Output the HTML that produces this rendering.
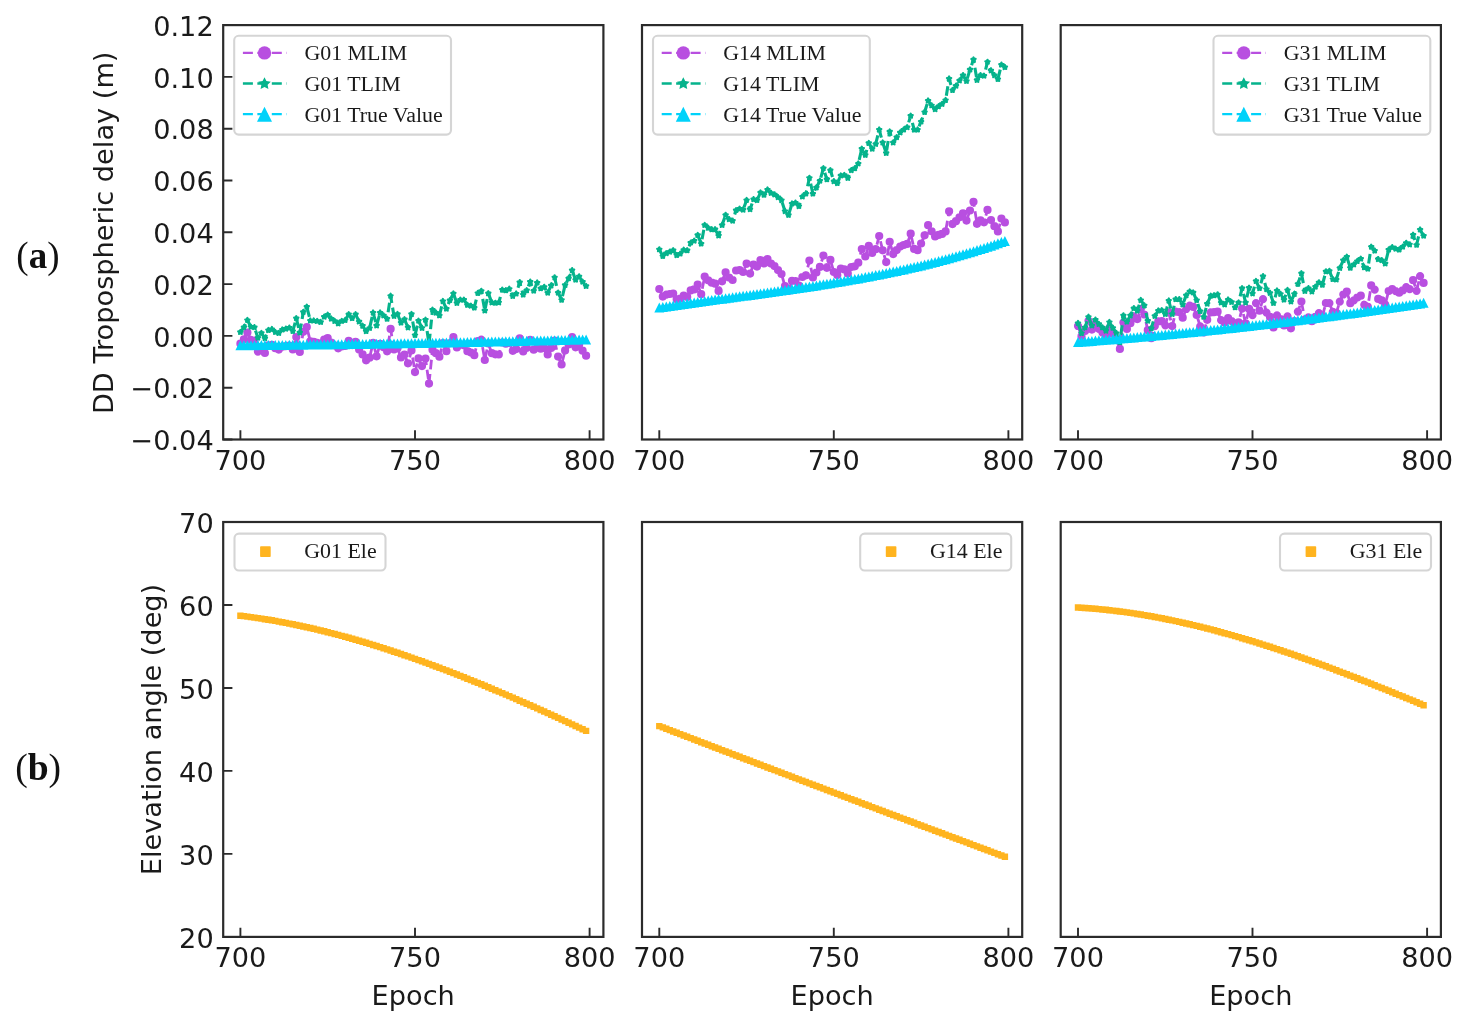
<!DOCTYPE html>
<html><head><meta charset="utf-8"><title>DD tropospheric delay and elevation angle</title>
<style>
html,body{margin:0;padding:0;background:#fff;}
body{width:1467px;height:1025px;overflow:hidden;}
svg{display:block;}
.tk{font-family:"DejaVu Sans","Liberation Sans",sans-serif;font-size:27.2px;fill:#1a1a1a;}
.lg{font-family:"Liberation Serif",serif;font-size:21.9px;fill:#1a1a1a;}
.pl{font-family:"Liberation Serif","DejaVu Serif",serif;fill:#111;}
</style></head><body>
<svg width="1467" height="1025" viewBox="0 0 1467 1025">
<rect width="1467" height="1025" fill="#fff"/>
<g id="top0">
<polyline points="240.4,343.7 243.9,339.4 247.4,332.6 250.9,339.8 254.4,340.7 257.9,351.6 261.4,347.3 264.9,353.0 268.4,345.3 271.9,344.8 275.3,348.2 278.8,349.6 282.3,346.7 285.8,346.2 289.3,345.7 292.8,349.5 296.3,337.1 299.8,351.9 303.3,331.8 306.8,327.1 310.3,341.4 313.7,341.9 317.2,342.9 320.7,344.3 324.2,339.6 327.7,338.2 331.2,342.5 334.7,345.4 338.2,348.3 341.7,346.4 345.2,346.0 348.7,340.8 352.2,345.1 355.6,341.9 359.1,349.6 362.6,354.4 366.1,360.3 369.6,357.7 373.1,342.8 376.6,356.3 380.1,343.9 383.6,347.3 387.1,351.3 390.6,328.9 394.0,349.5 397.5,348.2 401.0,357.4 404.5,354.6 408.0,363.3 411.5,350.5 415.0,372.1 418.5,358.4 422.0,366.1 425.5,358.6 429.0,383.6 432.5,349.7 435.9,353.2 439.4,356.7 442.9,343.0 446.4,351.2 449.9,343.2 453.4,337.2 456.9,347.4 460.4,344.6 463.9,345.3 467.4,351.2 470.9,352.6 474.3,355.2 477.8,341.2 481.3,339.7 484.8,360.0 488.3,343.4 491.8,353.2 495.3,354.3 498.8,354.5 502.3,342.5 505.8,343.7 509.3,343.0 512.8,350.8 516.2,349.1 519.7,338.3 523.2,351.4 526.7,347.8 530.2,339.9 533.7,349.7 537.2,342.3 540.7,348.7 544.2,348.0 547.7,354.4 551.2,348.0 554.6,340.5 558.1,356.6 561.6,364.5 565.1,350.4 568.6,344.4 572.1,337.0 575.6,347.3 579.1,344.7 582.6,350.7 586.1,355.7" fill="none" stroke="#b84fe0" stroke-width="2.8" stroke-dasharray="9.6 4.6" stroke-linejoin="round"/>
<path fill="#b84fe0" d="M236.3,343.7a4.1,4.1 0 1,0 8.2,0a4.1,4.1 0 1,0 -8.2,0ZM239.8,339.4a4.1,4.1 0 1,0 8.2,0a4.1,4.1 0 1,0 -8.2,0ZM243.3,332.6a4.1,4.1 0 1,0 8.2,0a4.1,4.1 0 1,0 -8.2,0ZM246.8,339.8a4.1,4.1 0 1,0 8.2,0a4.1,4.1 0 1,0 -8.2,0ZM250.3,340.7a4.1,4.1 0 1,0 8.2,0a4.1,4.1 0 1,0 -8.2,0ZM253.8,351.6a4.1,4.1 0 1,0 8.2,0a4.1,4.1 0 1,0 -8.2,0ZM257.3,347.3a4.1,4.1 0 1,0 8.2,0a4.1,4.1 0 1,0 -8.2,0ZM260.8,353.0a4.1,4.1 0 1,0 8.2,0a4.1,4.1 0 1,0 -8.2,0ZM264.3,345.3a4.1,4.1 0 1,0 8.2,0a4.1,4.1 0 1,0 -8.2,0ZM267.8,344.8a4.1,4.1 0 1,0 8.2,0a4.1,4.1 0 1,0 -8.2,0ZM271.2,348.2a4.1,4.1 0 1,0 8.2,0a4.1,4.1 0 1,0 -8.2,0ZM274.7,349.6a4.1,4.1 0 1,0 8.2,0a4.1,4.1 0 1,0 -8.2,0ZM278.2,346.7a4.1,4.1 0 1,0 8.2,0a4.1,4.1 0 1,0 -8.2,0ZM281.7,346.2a4.1,4.1 0 1,0 8.2,0a4.1,4.1 0 1,0 -8.2,0ZM285.2,345.7a4.1,4.1 0 1,0 8.2,0a4.1,4.1 0 1,0 -8.2,0ZM288.7,349.5a4.1,4.1 0 1,0 8.2,0a4.1,4.1 0 1,0 -8.2,0ZM292.2,337.1a4.1,4.1 0 1,0 8.2,0a4.1,4.1 0 1,0 -8.2,0ZM295.7,351.9a4.1,4.1 0 1,0 8.2,0a4.1,4.1 0 1,0 -8.2,0ZM299.2,331.8a4.1,4.1 0 1,0 8.2,0a4.1,4.1 0 1,0 -8.2,0ZM302.7,327.1a4.1,4.1 0 1,0 8.2,0a4.1,4.1 0 1,0 -8.2,0ZM306.2,341.4a4.1,4.1 0 1,0 8.2,0a4.1,4.1 0 1,0 -8.2,0ZM309.6,341.9a4.1,4.1 0 1,0 8.2,0a4.1,4.1 0 1,0 -8.2,0ZM313.1,342.9a4.1,4.1 0 1,0 8.2,0a4.1,4.1 0 1,0 -8.2,0ZM316.6,344.3a4.1,4.1 0 1,0 8.2,0a4.1,4.1 0 1,0 -8.2,0ZM320.1,339.6a4.1,4.1 0 1,0 8.2,0a4.1,4.1 0 1,0 -8.2,0ZM323.6,338.2a4.1,4.1 0 1,0 8.2,0a4.1,4.1 0 1,0 -8.2,0ZM327.1,342.5a4.1,4.1 0 1,0 8.2,0a4.1,4.1 0 1,0 -8.2,0ZM330.6,345.4a4.1,4.1 0 1,0 8.2,0a4.1,4.1 0 1,0 -8.2,0ZM334.1,348.3a4.1,4.1 0 1,0 8.2,0a4.1,4.1 0 1,0 -8.2,0ZM337.6,346.4a4.1,4.1 0 1,0 8.2,0a4.1,4.1 0 1,0 -8.2,0ZM341.1,346.0a4.1,4.1 0 1,0 8.2,0a4.1,4.1 0 1,0 -8.2,0ZM344.6,340.8a4.1,4.1 0 1,0 8.2,0a4.1,4.1 0 1,0 -8.2,0ZM348.1,345.1a4.1,4.1 0 1,0 8.2,0a4.1,4.1 0 1,0 -8.2,0ZM351.5,341.9a4.1,4.1 0 1,0 8.2,0a4.1,4.1 0 1,0 -8.2,0ZM355.0,349.6a4.1,4.1 0 1,0 8.2,0a4.1,4.1 0 1,0 -8.2,0ZM358.5,354.4a4.1,4.1 0 1,0 8.2,0a4.1,4.1 0 1,0 -8.2,0ZM362.0,360.3a4.1,4.1 0 1,0 8.2,0a4.1,4.1 0 1,0 -8.2,0ZM365.5,357.7a4.1,4.1 0 1,0 8.2,0a4.1,4.1 0 1,0 -8.2,0ZM369.0,342.8a4.1,4.1 0 1,0 8.2,0a4.1,4.1 0 1,0 -8.2,0ZM372.5,356.3a4.1,4.1 0 1,0 8.2,0a4.1,4.1 0 1,0 -8.2,0ZM376.0,343.9a4.1,4.1 0 1,0 8.2,0a4.1,4.1 0 1,0 -8.2,0ZM379.5,347.3a4.1,4.1 0 1,0 8.2,0a4.1,4.1 0 1,0 -8.2,0ZM383.0,351.3a4.1,4.1 0 1,0 8.2,0a4.1,4.1 0 1,0 -8.2,0ZM386.5,328.9a4.1,4.1 0 1,0 8.2,0a4.1,4.1 0 1,0 -8.2,0ZM389.9,349.5a4.1,4.1 0 1,0 8.2,0a4.1,4.1 0 1,0 -8.2,0ZM393.4,348.2a4.1,4.1 0 1,0 8.2,0a4.1,4.1 0 1,0 -8.2,0ZM396.9,357.4a4.1,4.1 0 1,0 8.2,0a4.1,4.1 0 1,0 -8.2,0ZM400.4,354.6a4.1,4.1 0 1,0 8.2,0a4.1,4.1 0 1,0 -8.2,0ZM403.9,363.3a4.1,4.1 0 1,0 8.2,0a4.1,4.1 0 1,0 -8.2,0ZM407.4,350.5a4.1,4.1 0 1,0 8.2,0a4.1,4.1 0 1,0 -8.2,0ZM410.9,372.1a4.1,4.1 0 1,0 8.2,0a4.1,4.1 0 1,0 -8.2,0ZM414.4,358.4a4.1,4.1 0 1,0 8.2,0a4.1,4.1 0 1,0 -8.2,0ZM417.9,366.1a4.1,4.1 0 1,0 8.2,0a4.1,4.1 0 1,0 -8.2,0ZM421.4,358.6a4.1,4.1 0 1,0 8.2,0a4.1,4.1 0 1,0 -8.2,0ZM424.9,383.6a4.1,4.1 0 1,0 8.2,0a4.1,4.1 0 1,0 -8.2,0ZM428.4,349.7a4.1,4.1 0 1,0 8.2,0a4.1,4.1 0 1,0 -8.2,0ZM431.8,353.2a4.1,4.1 0 1,0 8.2,0a4.1,4.1 0 1,0 -8.2,0ZM435.3,356.7a4.1,4.1 0 1,0 8.2,0a4.1,4.1 0 1,0 -8.2,0ZM438.8,343.0a4.1,4.1 0 1,0 8.2,0a4.1,4.1 0 1,0 -8.2,0ZM442.3,351.2a4.1,4.1 0 1,0 8.2,0a4.1,4.1 0 1,0 -8.2,0ZM445.8,343.2a4.1,4.1 0 1,0 8.2,0a4.1,4.1 0 1,0 -8.2,0ZM449.3,337.2a4.1,4.1 0 1,0 8.2,0a4.1,4.1 0 1,0 -8.2,0ZM452.8,347.4a4.1,4.1 0 1,0 8.2,0a4.1,4.1 0 1,0 -8.2,0ZM456.3,344.6a4.1,4.1 0 1,0 8.2,0a4.1,4.1 0 1,0 -8.2,0ZM459.8,345.3a4.1,4.1 0 1,0 8.2,0a4.1,4.1 0 1,0 -8.2,0ZM463.3,351.2a4.1,4.1 0 1,0 8.2,0a4.1,4.1 0 1,0 -8.2,0ZM466.8,352.6a4.1,4.1 0 1,0 8.2,0a4.1,4.1 0 1,0 -8.2,0ZM470.2,355.2a4.1,4.1 0 1,0 8.2,0a4.1,4.1 0 1,0 -8.2,0ZM473.7,341.2a4.1,4.1 0 1,0 8.2,0a4.1,4.1 0 1,0 -8.2,0ZM477.2,339.7a4.1,4.1 0 1,0 8.2,0a4.1,4.1 0 1,0 -8.2,0ZM480.7,360.0a4.1,4.1 0 1,0 8.2,0a4.1,4.1 0 1,0 -8.2,0ZM484.2,343.4a4.1,4.1 0 1,0 8.2,0a4.1,4.1 0 1,0 -8.2,0ZM487.7,353.2a4.1,4.1 0 1,0 8.2,0a4.1,4.1 0 1,0 -8.2,0ZM491.2,354.3a4.1,4.1 0 1,0 8.2,0a4.1,4.1 0 1,0 -8.2,0ZM494.7,354.5a4.1,4.1 0 1,0 8.2,0a4.1,4.1 0 1,0 -8.2,0ZM498.2,342.5a4.1,4.1 0 1,0 8.2,0a4.1,4.1 0 1,0 -8.2,0ZM501.7,343.7a4.1,4.1 0 1,0 8.2,0a4.1,4.1 0 1,0 -8.2,0ZM505.2,343.0a4.1,4.1 0 1,0 8.2,0a4.1,4.1 0 1,0 -8.2,0ZM508.7,350.8a4.1,4.1 0 1,0 8.2,0a4.1,4.1 0 1,0 -8.2,0ZM512.1,349.1a4.1,4.1 0 1,0 8.2,0a4.1,4.1 0 1,0 -8.2,0ZM515.6,338.3a4.1,4.1 0 1,0 8.2,0a4.1,4.1 0 1,0 -8.2,0ZM519.1,351.4a4.1,4.1 0 1,0 8.2,0a4.1,4.1 0 1,0 -8.2,0ZM522.6,347.8a4.1,4.1 0 1,0 8.2,0a4.1,4.1 0 1,0 -8.2,0ZM526.1,339.9a4.1,4.1 0 1,0 8.2,0a4.1,4.1 0 1,0 -8.2,0ZM529.6,349.7a4.1,4.1 0 1,0 8.2,0a4.1,4.1 0 1,0 -8.2,0ZM533.1,342.3a4.1,4.1 0 1,0 8.2,0a4.1,4.1 0 1,0 -8.2,0ZM536.6,348.7a4.1,4.1 0 1,0 8.2,0a4.1,4.1 0 1,0 -8.2,0ZM540.1,348.0a4.1,4.1 0 1,0 8.2,0a4.1,4.1 0 1,0 -8.2,0ZM543.6,354.4a4.1,4.1 0 1,0 8.2,0a4.1,4.1 0 1,0 -8.2,0ZM547.1,348.0a4.1,4.1 0 1,0 8.2,0a4.1,4.1 0 1,0 -8.2,0ZM550.5,340.5a4.1,4.1 0 1,0 8.2,0a4.1,4.1 0 1,0 -8.2,0ZM554.0,356.6a4.1,4.1 0 1,0 8.2,0a4.1,4.1 0 1,0 -8.2,0ZM557.5,364.5a4.1,4.1 0 1,0 8.2,0a4.1,4.1 0 1,0 -8.2,0ZM561.0,350.4a4.1,4.1 0 1,0 8.2,0a4.1,4.1 0 1,0 -8.2,0ZM564.5,344.4a4.1,4.1 0 1,0 8.2,0a4.1,4.1 0 1,0 -8.2,0ZM568.0,337.0a4.1,4.1 0 1,0 8.2,0a4.1,4.1 0 1,0 -8.2,0ZM571.5,347.3a4.1,4.1 0 1,0 8.2,0a4.1,4.1 0 1,0 -8.2,0ZM575.0,344.7a4.1,4.1 0 1,0 8.2,0a4.1,4.1 0 1,0 -8.2,0ZM578.5,350.7a4.1,4.1 0 1,0 8.2,0a4.1,4.1 0 1,0 -8.2,0ZM582.0,355.7a4.1,4.1 0 1,0 8.2,0a4.1,4.1 0 1,0 -8.2,0Z"/>
<polyline points="240.4,332.1 243.9,327.3 247.4,320.2 250.9,326.9 254.4,327.3 257.9,337.9 261.4,333.1 264.9,338.3 268.4,330.2 271.9,329.2 275.3,332.1 278.8,333.1 282.3,329.7 285.8,328.8 289.3,327.8 292.8,331.2 296.3,318.3 299.8,332.6 303.3,312.0 306.8,306.8 310.3,320.6 313.7,320.6 317.2,321.1 320.7,322.1 324.2,316.8 327.7,314.9 331.2,318.7 334.7,321.1 338.2,323.5 341.7,321.1 345.2,320.2 348.7,314.4 352.2,318.3 355.6,314.4 359.1,321.6 362.6,325.9 366.1,331.2 369.6,328.1 373.1,312.7 376.6,325.6 380.1,312.7 383.6,315.6 387.1,318.9 390.6,295.9 394.0,316.0 397.5,314.1 401.0,322.7 404.5,319.4 408.0,327.5 411.5,314.1 415.0,335.2 418.5,320.8 422.0,328.0 425.5,319.9 429.0,344.2 432.5,309.8 435.9,312.7 439.4,315.6 442.9,301.2 446.4,308.9 449.9,300.3 453.4,293.6 456.9,303.1 460.4,299.8 463.9,299.8 467.4,305.0 470.9,305.8 474.3,307.7 477.8,293.2 481.3,291.0 484.8,310.6 488.3,293.4 491.8,302.5 495.3,303.0 498.8,302.5 502.3,289.8 505.8,290.4 509.3,288.9 512.8,296.1 516.2,293.7 519.7,282.3 523.2,294.7 526.7,290.4 530.2,281.8 533.7,290.9 537.2,282.7 540.7,288.5 544.2,287.0 547.7,292.8 551.2,285.6 554.6,277.5 558.1,292.8 561.6,299.9 565.1,285.1 568.6,278.4 572.1,270.3 575.6,279.9 579.1,276.5 582.6,281.8 586.1,286.1" fill="none" stroke="#05b38c" stroke-width="3.1" stroke-dasharray="9.6 4.6" stroke-linejoin="round"/>
<path fill="#05b38c" stroke="#05b38c" stroke-width="2.2" stroke-linejoin="round" d="M240.4,329.9L241.1,331.2L242.5,331.4L241.5,332.5L241.7,333.9L240.4,333.2L239.1,333.9L239.4,332.5L238.3,331.4L239.8,331.2ZM243.9,325.1L244.6,326.4L246.0,326.7L245.0,327.7L245.2,329.1L243.9,328.4L242.6,329.1L242.9,327.7L241.8,326.7L243.3,326.4ZM247.4,318.0L248.1,319.3L249.5,319.5L248.5,320.5L248.7,321.9L247.4,321.3L246.1,321.9L246.4,320.5L245.3,319.5L246.8,319.3ZM250.9,324.7L251.6,326.0L253.0,326.2L252.0,327.2L252.2,328.6L250.9,328.0L249.6,328.6L249.9,327.2L248.8,326.2L250.3,326.0ZM254.4,325.1L255.0,326.4L256.5,326.7L255.4,327.7L255.7,329.1L254.4,328.4L253.1,329.1L253.4,327.7L252.3,326.7L253.8,326.4ZM257.9,335.7L258.5,337.0L260.0,337.2L258.9,338.2L259.2,339.6L257.9,339.0L256.6,339.6L256.8,338.2L255.8,337.2L257.2,337.0ZM261.4,330.9L262.0,332.2L263.5,332.4L262.4,333.4L262.7,334.9L261.4,334.2L260.1,334.9L260.3,333.4L259.3,332.4L260.7,332.2ZM264.9,336.1L265.5,337.4L267.0,337.7L265.9,338.7L266.2,340.1L264.9,339.4L263.6,340.1L263.8,338.7L262.8,337.7L264.2,337.4ZM268.4,328.0L269.0,329.3L270.5,329.5L269.4,330.5L269.7,332.0L268.4,331.3L267.1,332.0L267.3,330.5L266.3,329.5L267.7,329.3ZM271.9,327.0L272.5,328.4L273.9,328.6L272.9,329.6L273.1,331.0L271.9,330.3L270.6,331.0L270.8,329.6L269.8,328.6L271.2,328.4ZM275.3,329.9L276.0,331.2L277.4,331.4L276.4,332.5L276.6,333.9L275.3,333.2L274.1,333.9L274.3,332.5L273.3,331.4L274.7,331.2ZM278.8,330.9L279.5,332.2L280.9,332.4L279.9,333.4L280.1,334.9L278.8,334.2L277.5,334.9L277.8,333.4L276.7,332.4L278.2,332.2ZM282.3,327.5L283.0,328.8L284.4,329.0L283.4,330.1L283.6,331.5L282.3,330.8L281.0,331.5L281.3,330.1L280.2,329.0L281.7,328.8ZM285.8,326.6L286.5,327.9L287.9,328.1L286.9,329.1L287.1,330.6L285.8,329.9L284.5,330.6L284.8,329.1L283.7,328.1L285.2,327.9ZM289.3,325.6L290.0,326.9L291.4,327.1L290.4,328.2L290.6,329.6L289.3,328.9L288.0,329.6L288.3,328.2L287.2,327.1L288.7,326.9ZM292.8,329.0L293.4,330.3L294.9,330.5L293.8,331.5L294.1,332.9L292.8,332.3L291.5,332.9L291.8,331.5L290.7,330.5L292.2,330.3ZM296.3,316.1L296.9,317.4L298.4,317.6L297.3,318.6L297.6,320.0L296.3,319.4L295.0,320.0L295.2,318.6L294.2,317.6L295.6,317.4ZM299.8,330.4L300.4,331.7L301.9,331.9L300.8,332.9L301.1,334.4L299.8,333.7L298.5,334.4L298.7,332.9L297.7,331.9L299.1,331.7ZM303.3,309.8L303.9,311.1L305.4,311.4L304.3,312.4L304.6,313.8L303.3,313.1L302.0,313.8L302.2,312.4L301.2,311.4L302.6,311.1ZM306.8,304.6L307.4,305.9L308.9,306.1L307.8,307.1L308.1,308.6L306.8,307.9L305.5,308.6L305.7,307.1L304.7,306.1L306.1,305.9ZM310.3,318.4L310.9,319.8L312.3,320.0L311.3,321.0L311.6,322.4L310.3,321.7L309.0,322.4L309.2,321.0L308.2,320.0L309.6,319.8ZM313.7,318.4L314.4,319.8L315.8,320.0L314.8,321.0L315.0,322.4L313.7,321.7L312.5,322.4L312.7,321.0L311.7,320.0L313.1,319.8ZM317.2,318.9L317.9,320.2L319.3,320.4L318.3,321.5L318.5,322.9L317.2,322.2L315.9,322.9L316.2,321.5L315.1,320.4L316.6,320.2ZM320.7,319.9L321.4,321.2L322.8,321.4L321.8,322.4L322.0,323.9L320.7,323.2L319.4,323.9L319.7,322.4L318.6,321.4L320.1,321.2ZM324.2,314.6L324.9,315.9L326.3,316.1L325.3,317.2L325.5,318.6L324.2,317.9L322.9,318.6L323.2,317.2L322.1,316.1L323.6,315.9ZM327.7,312.7L328.4,314.0L329.8,314.2L328.8,315.2L329.0,316.7L327.7,316.0L326.4,316.7L326.7,315.2L325.6,314.2L327.1,314.0ZM331.2,316.5L331.9,317.8L333.3,318.0L332.3,319.1L332.5,320.5L331.2,319.8L329.9,320.5L330.2,319.1L329.1,318.0L330.6,317.8ZM334.7,318.9L335.3,320.2L336.8,320.4L335.7,321.5L336.0,322.9L334.7,322.2L333.4,322.9L333.7,321.5L332.6,320.4L334.0,320.2ZM338.2,321.3L338.8,322.6L340.3,322.8L339.2,323.9L339.5,325.3L338.2,324.6L336.9,325.3L337.1,323.9L336.1,322.8L337.5,322.6ZM341.7,318.9L342.3,320.2L343.8,320.4L342.7,321.5L343.0,322.9L341.7,322.2L340.4,322.9L340.6,321.5L339.6,320.4L341.0,320.2ZM345.2,318.0L345.8,319.3L347.3,319.5L346.2,320.5L346.5,321.9L345.2,321.3L343.9,321.9L344.1,320.5L343.1,319.5L344.5,319.3ZM348.7,312.2L349.3,313.5L350.8,313.7L349.7,314.8L350.0,316.2L348.7,315.5L347.4,316.2L347.6,314.8L346.6,313.7L348.0,313.5ZM352.2,316.1L352.8,317.4L354.2,317.6L353.2,318.6L353.4,320.0L352.2,319.4L350.9,320.0L351.1,318.6L350.1,317.6L351.5,317.4ZM355.6,312.2L356.3,313.5L357.7,313.7L356.7,314.8L356.9,316.2L355.6,315.5L354.4,316.2L354.6,314.8L353.6,313.7L355.0,313.5ZM359.1,319.4L359.8,320.7L361.2,320.9L360.2,321.9L360.4,323.4L359.1,322.7L357.8,323.4L358.1,321.9L357.0,320.9L358.5,320.7ZM362.6,323.7L363.3,325.0L364.7,325.2L363.7,326.2L363.9,327.7L362.6,327.0L361.3,327.7L361.6,326.2L360.5,325.2L362.0,325.0ZM366.1,329.0L366.8,330.4L368.2,330.6L367.2,331.6L367.4,333.0L366.1,332.3L364.8,333.0L365.1,331.6L364.0,330.6L365.5,330.4ZM369.6,325.9L370.3,327.2L371.7,327.5L370.7,328.5L370.9,329.9L369.6,329.2L368.3,329.9L368.6,328.5L367.5,327.5L369.0,327.2ZM373.1,310.5L373.7,311.8L375.2,312.0L374.1,313.0L374.4,314.5L373.1,313.8L371.8,314.5L372.1,313.0L371.0,312.0L372.5,311.8ZM376.6,323.4L377.2,324.7L378.7,324.9L377.6,325.9L377.9,327.4L376.6,326.7L375.3,327.4L375.5,325.9L374.5,324.9L375.9,324.7ZM380.1,310.5L380.7,311.8L382.2,312.0L381.1,313.0L381.4,314.5L380.1,313.8L378.8,314.5L379.0,313.0L378.0,312.0L379.4,311.8ZM383.6,313.4L384.2,314.7L385.7,314.9L384.6,315.9L384.9,317.3L383.6,316.7L382.3,317.3L382.5,315.9L381.5,314.9L382.9,314.7ZM387.1,316.7L387.7,318.0L389.2,318.2L388.1,319.2L388.4,320.7L387.1,320.0L385.8,320.7L386.0,319.2L385.0,318.2L386.4,318.0ZM390.6,293.7L391.2,295.1L392.6,295.3L391.6,296.3L391.8,297.7L390.6,297.0L389.3,297.7L389.5,296.3L388.5,295.3L389.9,295.1ZM394.0,313.8L394.7,315.1L396.1,315.4L395.1,316.4L395.3,317.8L394.0,317.1L392.8,317.8L393.0,316.4L392.0,315.4L393.4,315.1ZM397.5,311.9L398.2,313.2L399.6,313.4L398.6,314.5L398.8,315.9L397.5,315.2L396.2,315.9L396.5,314.5L395.4,313.4L396.9,313.2ZM401.0,320.5L401.7,321.8L403.1,322.0L402.1,323.1L402.3,324.5L401.0,323.8L399.7,324.5L400.0,323.1L398.9,322.0L400.4,321.8ZM404.5,317.2L405.2,318.5L406.6,318.7L405.6,319.7L405.8,321.2L404.5,320.5L403.2,321.2L403.5,319.7L402.4,318.7L403.9,318.5ZM408.0,325.3L408.7,326.6L410.1,326.8L409.1,327.8L409.3,329.3L408.0,328.6L406.7,329.3L407.0,327.8L405.9,326.8L407.4,326.6ZM411.5,311.9L412.2,313.2L413.6,313.4L412.6,314.5L412.8,315.9L411.5,315.2L410.2,315.9L410.5,314.5L409.4,313.4L410.9,313.2ZM415.0,333.0L415.6,334.3L417.1,334.5L416.0,335.5L416.3,336.9L415.0,336.3L413.7,336.9L413.9,335.5L412.9,334.5L414.3,334.3ZM418.5,318.6L419.1,319.9L420.6,320.1L419.5,321.2L419.8,322.6L418.5,321.9L417.2,322.6L417.4,321.2L416.4,320.1L417.8,319.9ZM422.0,325.8L422.6,327.1L424.1,327.3L423.0,328.3L423.3,329.8L422.0,329.1L420.7,329.8L420.9,328.3L419.9,327.3L421.3,327.1ZM425.5,317.7L426.1,319.0L427.6,319.2L426.5,320.2L426.8,321.6L425.5,321.0L424.2,321.6L424.4,320.2L423.4,319.2L424.8,319.0ZM429.0,342.0L429.6,343.4L431.1,343.6L430.0,344.6L430.3,346.0L429.0,345.3L427.7,346.0L427.9,344.6L426.9,343.6L428.3,343.4ZM432.5,307.6L433.1,308.9L434.5,309.1L433.5,310.2L433.7,311.6L432.5,310.9L431.2,311.6L431.4,310.2L430.4,309.1L431.8,308.9ZM435.9,310.5L436.6,311.8L438.0,312.0L437.0,313.0L437.2,314.5L435.9,313.8L434.7,314.5L434.9,313.0L433.9,312.0L435.3,311.8ZM439.4,313.4L440.1,314.7L441.5,314.9L440.5,315.9L440.7,317.3L439.4,316.7L438.1,317.3L438.4,315.9L437.3,314.9L438.8,314.7ZM442.9,299.0L443.6,300.3L445.0,300.5L444.0,301.5L444.2,303.0L442.9,302.3L441.6,303.0L441.9,301.5L440.8,300.5L442.3,300.3ZM446.4,306.7L447.1,308.0L448.5,308.2L447.5,309.2L447.7,310.6L446.4,310.0L445.1,310.6L445.4,309.2L444.3,308.2L445.8,308.0ZM449.9,298.1L450.6,299.4L452.0,299.6L451.0,300.6L451.2,302.0L449.9,301.4L448.6,302.0L448.9,300.6L447.8,299.6L449.3,299.4ZM453.4,291.4L454.0,292.7L455.5,292.9L454.4,293.9L454.7,295.3L453.4,294.7L452.1,295.3L452.4,293.9L451.3,292.9L452.8,292.7ZM456.9,300.9L457.5,302.2L459.0,302.4L457.9,303.5L458.2,304.9L456.9,304.2L455.6,304.9L455.8,303.5L454.8,302.4L456.2,302.2ZM460.4,297.6L461.0,298.9L462.5,299.1L461.4,300.1L461.7,301.6L460.4,300.9L459.1,301.6L459.3,300.1L458.3,299.1L459.7,298.9ZM463.9,297.6L464.5,298.9L466.0,299.1L464.9,300.1L465.2,301.6L463.9,300.9L462.6,301.6L462.8,300.1L461.8,299.1L463.2,298.9ZM467.4,302.8L468.0,304.1L469.5,304.4L468.4,305.4L468.7,306.8L467.4,306.1L466.1,306.8L466.3,305.4L465.3,304.4L466.7,304.1ZM470.9,303.6L471.5,304.9L472.9,305.2L471.9,306.2L472.1,307.6L470.9,306.9L469.6,307.6L469.8,306.2L468.8,305.2L470.2,304.9ZM474.3,305.5L475.0,306.9L476.4,307.1L475.4,308.1L475.6,309.5L474.3,308.8L473.1,309.5L473.3,308.1L472.3,307.1L473.7,306.9ZM477.8,291.0L478.5,292.3L479.9,292.5L478.9,293.5L479.1,294.9L477.8,294.3L476.5,294.9L476.8,293.5L475.7,292.5L477.2,292.3ZM481.3,288.8L482.0,290.1L483.4,290.3L482.4,291.4L482.6,292.8L481.3,292.1L480.0,292.8L480.3,291.4L479.2,290.3L480.7,290.1ZM484.8,308.4L485.5,309.7L486.9,309.9L485.9,311.0L486.1,312.4L484.8,311.7L483.5,312.4L483.8,311.0L482.7,309.9L484.2,309.7ZM488.3,291.2L489.0,292.5L490.4,292.7L489.4,293.7L489.6,295.2L488.3,294.5L487.0,295.2L487.3,293.7L486.2,292.7L487.7,292.5ZM491.8,300.3L492.5,301.6L493.9,301.8L492.8,302.8L493.1,304.3L491.8,303.6L490.5,304.3L490.8,302.8L489.7,301.8L491.2,301.6ZM495.3,300.8L495.9,302.1L497.4,302.3L496.3,303.3L496.6,304.7L495.3,304.1L494.0,304.7L494.2,303.3L493.2,302.3L494.6,302.1ZM498.8,300.3L499.4,301.6L500.9,301.8L499.8,302.8L500.1,304.3L498.8,303.6L497.5,304.3L497.7,302.8L496.7,301.8L498.1,301.6ZM502.3,287.6L502.9,288.9L504.4,289.1L503.3,290.2L503.6,291.6L502.3,290.9L501.0,291.6L501.2,290.2L500.2,289.1L501.6,288.9ZM505.8,288.2L506.4,289.5L507.9,289.7L506.8,290.7L507.1,292.2L505.8,291.5L504.5,292.2L504.7,290.7L503.7,289.7L505.1,289.5ZM509.3,286.7L509.9,288.1L511.4,288.3L510.3,289.3L510.6,290.7L509.3,290.0L508.0,290.7L508.2,289.3L507.2,288.3L508.6,288.1ZM512.8,293.9L513.4,295.2L514.8,295.4L513.8,296.5L514.0,297.9L512.8,297.2L511.5,297.9L511.7,296.5L510.7,295.4L512.1,295.2ZM516.2,291.5L516.9,292.8L518.3,293.0L517.3,294.1L517.5,295.5L516.2,294.8L514.9,295.5L515.2,294.1L514.2,293.0L515.6,292.8ZM519.7,280.1L520.4,281.4L521.8,281.6L520.8,282.6L521.0,284.0L519.7,283.4L518.4,284.0L518.7,282.6L517.6,281.6L519.1,281.4ZM523.2,292.5L523.9,293.8L525.3,294.0L524.3,295.0L524.5,296.5L523.2,295.8L521.9,296.5L522.2,295.0L521.1,294.0L522.6,293.8ZM526.7,288.2L527.4,289.5L528.8,289.7L527.8,290.7L528.0,292.2L526.7,291.5L525.4,292.2L525.7,290.7L524.6,289.7L526.1,289.5ZM530.2,279.6L530.9,280.9L532.3,281.1L531.3,282.1L531.5,283.6L530.2,282.9L528.9,283.6L529.2,282.1L528.1,281.1L529.6,280.9ZM533.7,288.7L534.3,290.0L535.8,290.2L534.7,291.2L535.0,292.6L533.7,292.0L532.4,292.6L532.7,291.2L531.6,290.2L533.1,290.0ZM537.2,280.5L537.8,281.8L539.3,282.1L538.2,283.1L538.5,284.5L537.2,283.8L535.9,284.5L536.1,283.1L535.1,282.1L536.5,281.8ZM540.7,286.3L541.3,287.6L542.8,287.8L541.7,288.8L542.0,290.2L540.7,289.6L539.4,290.2L539.6,288.8L538.6,287.8L540.0,287.6ZM544.2,284.8L544.8,286.1L546.3,286.4L545.2,287.4L545.5,288.8L544.2,288.1L542.9,288.8L543.1,287.4L542.1,286.4L543.5,286.1ZM547.7,290.6L548.3,291.9L549.8,292.1L548.7,293.1L549.0,294.6L547.7,293.9L546.4,294.6L546.6,293.1L545.6,292.1L547.0,291.9ZM551.2,283.4L551.8,284.7L553.2,284.9L552.2,285.9L552.4,287.4L551.2,286.7L549.9,287.4L550.1,285.9L549.1,284.9L550.5,284.7ZM554.6,275.3L555.3,276.6L556.7,276.8L555.7,277.8L555.9,279.3L554.6,278.6L553.4,279.3L553.6,277.8L552.6,276.8L554.0,276.6ZM558.1,290.6L558.8,291.9L560.2,292.1L559.2,293.1L559.4,294.6L558.1,293.9L556.8,294.6L557.1,293.1L556.0,292.1L557.5,291.9ZM561.6,297.7L562.3,299.1L563.7,299.3L562.7,300.3L562.9,301.7L561.6,301.0L560.3,301.7L560.6,300.3L559.5,299.3L561.0,299.1ZM565.1,282.9L565.8,284.2L567.2,284.4L566.2,285.5L566.4,286.9L565.1,286.2L563.8,286.9L564.1,285.5L563.0,284.4L564.5,284.2ZM568.6,276.2L569.3,277.5L570.7,277.7L569.7,278.8L569.9,280.2L568.6,279.5L567.3,280.2L567.6,278.8L566.5,277.7L568.0,277.5ZM572.1,268.1L572.7,269.4L574.2,269.6L573.1,270.6L573.4,272.1L572.1,271.4L570.8,272.1L571.1,270.6L570.0,269.6L571.5,269.4ZM575.6,277.7L576.2,279.0L577.7,279.2L576.6,280.2L576.9,281.6L575.6,281.0L574.3,281.6L574.5,280.2L573.5,279.2L574.9,279.0ZM579.1,274.3L579.7,275.6L581.2,275.8L580.1,276.9L580.4,278.3L579.1,277.6L577.8,278.3L578.0,276.9L577.0,275.8L578.4,275.6ZM582.6,279.6L583.2,280.9L584.7,281.1L583.6,282.1L583.9,283.6L582.6,282.9L581.3,283.6L581.5,282.1L580.5,281.1L581.9,280.9ZM586.1,283.9L586.7,285.2L588.2,285.4L587.1,286.4L587.4,287.9L586.1,287.2L584.8,287.9L585.0,286.4L584.0,285.4L585.4,285.2Z"/>
<polyline points="240.4,345.3 243.9,345.3 247.4,345.2 250.9,345.2 254.4,345.2 257.9,345.1 261.4,345.1 264.9,345.1 268.4,345.1 271.9,345.0 275.3,345.0 278.8,344.9 282.3,344.9 285.8,344.9 289.3,344.8 292.8,344.8 296.3,344.8 299.8,344.7 303.3,344.7 306.8,344.6 310.3,344.6 313.7,344.6 317.2,344.5 320.7,344.5 324.2,344.4 327.7,344.4 331.2,344.3 334.7,344.3 338.2,344.3 341.7,344.2 345.2,344.2 348.7,344.1 352.2,344.1 355.6,344.0 359.1,344.0 362.6,343.9 366.1,343.9 369.6,343.8 373.1,343.8 376.6,343.7 380.1,343.7 383.6,343.6 387.1,343.6 390.6,343.5 394.0,343.4 397.5,343.4 401.0,343.3 404.5,343.3 408.0,343.2 411.5,343.2 415.0,343.1 418.5,343.0 422.0,343.0 425.5,342.9 429.0,342.8 432.5,342.8 435.9,342.7 439.4,342.7 442.9,342.6 446.4,342.5 449.9,342.5 453.4,342.4 456.9,342.3 460.4,342.3 463.9,342.2 467.4,342.1 470.9,342.1 474.3,342.0 477.8,341.9 481.3,341.8 484.8,341.8 488.3,341.7 491.8,341.6 495.3,341.5 498.8,341.5 502.3,341.4 505.8,341.3 509.3,341.2 512.8,341.2 516.2,341.1 519.7,341.0 523.2,340.9 526.7,340.8 530.2,340.8 533.7,340.7 537.2,340.6 540.7,340.5 544.2,340.4 547.7,340.4 551.2,340.3 554.6,340.2 558.1,340.1 561.6,340.0 565.1,339.9 568.6,339.8 572.1,339.7 575.6,339.7 579.1,339.6 582.6,339.5 586.1,339.4" fill="none" stroke="#00d2fa" stroke-width="2.2"/>
<path fill="#00d2fa" d="M240.4,340.3L245.4,350.3L235.4,350.3ZM243.9,340.3L248.9,350.3L238.9,350.3ZM247.4,340.2L252.4,350.2L242.4,350.2ZM250.9,340.2L255.9,350.2L245.9,350.2ZM254.4,340.2L259.4,350.2L249.4,350.2ZM257.9,340.1L262.9,350.1L252.9,350.1ZM261.4,340.1L266.4,350.1L256.4,350.1ZM264.9,340.1L269.9,350.1L259.9,350.1ZM268.4,340.1L273.4,350.1L263.4,350.1ZM271.9,340.0L276.9,350.0L266.9,350.0ZM275.3,340.0L280.3,350.0L270.3,350.0ZM278.8,339.9L283.8,349.9L273.8,349.9ZM282.3,339.9L287.3,349.9L277.3,349.9ZM285.8,339.9L290.8,349.9L280.8,349.9ZM289.3,339.8L294.3,349.8L284.3,349.8ZM292.8,339.8L297.8,349.8L287.8,349.8ZM296.3,339.8L301.3,349.8L291.3,349.8ZM299.8,339.7L304.8,349.7L294.8,349.7ZM303.3,339.7L308.3,349.7L298.3,349.7ZM306.8,339.6L311.8,349.6L301.8,349.6ZM310.3,339.6L315.3,349.6L305.3,349.6ZM313.7,339.6L318.7,349.6L308.7,349.6ZM317.2,339.5L322.2,349.5L312.2,349.5ZM320.7,339.5L325.7,349.5L315.7,349.5ZM324.2,339.4L329.2,349.4L319.2,349.4ZM327.7,339.4L332.7,349.4L322.7,349.4ZM331.2,339.3L336.2,349.3L326.2,349.3ZM334.7,339.3L339.7,349.3L329.7,349.3ZM338.2,339.3L343.2,349.3L333.2,349.3ZM341.7,339.2L346.7,349.2L336.7,349.2ZM345.2,339.2L350.2,349.2L340.2,349.2ZM348.7,339.1L353.7,349.1L343.7,349.1ZM352.2,339.1L357.2,349.1L347.2,349.1ZM355.6,339.0L360.6,349.0L350.6,349.0ZM359.1,339.0L364.1,349.0L354.1,349.0ZM362.6,338.9L367.6,348.9L357.6,348.9ZM366.1,338.9L371.1,348.9L361.1,348.9ZM369.6,338.8L374.6,348.8L364.6,348.8ZM373.1,338.8L378.1,348.8L368.1,348.8ZM376.6,338.7L381.6,348.7L371.6,348.7ZM380.1,338.7L385.1,348.7L375.1,348.7ZM383.6,338.6L388.6,348.6L378.6,348.6ZM387.1,338.6L392.1,348.6L382.1,348.6ZM390.6,338.5L395.6,348.5L385.6,348.5ZM394.0,338.4L399.0,348.4L389.0,348.4ZM397.5,338.4L402.5,348.4L392.5,348.4ZM401.0,338.3L406.0,348.3L396.0,348.3ZM404.5,338.3L409.5,348.3L399.5,348.3ZM408.0,338.2L413.0,348.2L403.0,348.2ZM411.5,338.2L416.5,348.2L406.5,348.2ZM415.0,338.1L420.0,348.1L410.0,348.1ZM418.5,338.0L423.5,348.0L413.5,348.0ZM422.0,338.0L427.0,348.0L417.0,348.0ZM425.5,337.9L430.5,347.9L420.5,347.9ZM429.0,337.8L434.0,347.8L424.0,347.8ZM432.5,337.8L437.5,347.8L427.5,347.8ZM435.9,337.7L440.9,347.7L430.9,347.7ZM439.4,337.7L444.4,347.7L434.4,347.7ZM442.9,337.6L447.9,347.6L437.9,347.6ZM446.4,337.5L451.4,347.5L441.4,347.5ZM449.9,337.5L454.9,347.5L444.9,347.5ZM453.4,337.4L458.4,347.4L448.4,347.4ZM456.9,337.3L461.9,347.3L451.9,347.3ZM460.4,337.3L465.4,347.3L455.4,347.3ZM463.9,337.2L468.9,347.2L458.9,347.2ZM467.4,337.1L472.4,347.1L462.4,347.1ZM470.9,337.1L475.9,347.1L465.9,347.1ZM474.3,337.0L479.3,347.0L469.3,347.0ZM477.8,336.9L482.8,346.9L472.8,346.9ZM481.3,336.8L486.3,346.8L476.3,346.8ZM484.8,336.8L489.8,346.8L479.8,346.8ZM488.3,336.7L493.3,346.7L483.3,346.7ZM491.8,336.6L496.8,346.6L486.8,346.6ZM495.3,336.5L500.3,346.5L490.3,346.5ZM498.8,336.5L503.8,346.5L493.8,346.5ZM502.3,336.4L507.3,346.4L497.3,346.4ZM505.8,336.3L510.8,346.3L500.8,346.3ZM509.3,336.2L514.3,346.2L504.3,346.2ZM512.8,336.2L517.8,346.2L507.8,346.2ZM516.2,336.1L521.2,346.1L511.2,346.1ZM519.7,336.0L524.7,346.0L514.7,346.0ZM523.2,335.9L528.2,345.9L518.2,345.9ZM526.7,335.8L531.7,345.8L521.7,345.8ZM530.2,335.8L535.2,345.8L525.2,345.8ZM533.7,335.7L538.7,345.7L528.7,345.7ZM537.2,335.6L542.2,345.6L532.2,345.6ZM540.7,335.5L545.7,345.5L535.7,345.5ZM544.2,335.4L549.2,345.4L539.2,345.4ZM547.7,335.4L552.7,345.4L542.7,345.4ZM551.2,335.3L556.2,345.3L546.2,345.3ZM554.6,335.2L559.6,345.2L549.6,345.2ZM558.1,335.1L563.1,345.1L553.1,345.1ZM561.6,335.0L566.6,345.0L556.6,345.0ZM565.1,334.9L570.1,344.9L560.1,344.9ZM568.6,334.8L573.6,344.8L563.6,344.8ZM572.1,334.7L577.1,344.7L567.1,344.7ZM575.6,334.7L580.6,344.7L570.6,344.7ZM579.1,334.6L584.1,344.6L574.1,344.6ZM582.6,334.5L587.6,344.5L577.6,344.5ZM586.1,334.4L591.1,344.4L581.1,344.4Z"/>
</g>
<g id="top1">
<polyline points="659.3,289.0 662.8,296.6 666.3,294.6 669.8,294.0 673.2,293.5 676.7,299.2 680.2,298.7 683.7,295.7 687.2,297.1 690.7,290.4 694.2,289.4 697.7,284.6 701.2,294.2 704.7,276.5 708.2,280.3 711.7,282.7 715.1,283.7 718.6,290.9 722.1,281.3 725.6,272.3 729.1,277.6 732.6,280.0 736.1,270.5 739.6,270.1 743.1,272.0 746.6,263.5 750.1,273.6 753.5,264.6 757.0,266.6 760.5,260.0 764.0,263.4 767.5,259.2 771.0,263.6 774.5,266.1 778.0,270.1 781.5,274.0 785.0,286.1 788.5,291.0 792.0,280.8 795.4,281.0 798.9,285.5 802.4,277.0 805.9,275.3 809.4,260.6 812.9,277.5 816.4,272.5 819.9,266.9 823.4,255.6 826.9,267.8 830.4,259.9 833.8,272.0 837.3,275.1 840.8,268.7 844.3,269.4 847.8,273.4 851.3,267.0 854.8,266.3 858.3,262.7 861.8,249.1 865.3,256.5 868.8,245.8 872.2,252.8 875.7,249.2 879.2,236.1 882.7,250.3 886.2,262.1 889.7,241.8 893.2,254.1 896.7,250.1 900.2,246.6 903.7,245.0 907.2,243.9 910.7,233.7 914.1,248.9 917.6,250.2 921.1,243.5 924.6,235.3 928.1,225.2 931.6,231.3 935.1,236.4 938.6,234.9 942.1,233.9 945.6,231.4 949.1,211.3 952.5,224.1 956.0,221.2 959.5,217.3 963.0,213.4 966.5,220.6 970.0,210.5 973.5,201.8 977.0,223.8 980.5,220.4 984.0,222.3 987.5,209.9 991.0,220.0 994.4,226.2 997.9,231.4 1001.4,218.6 1004.9,222.4" fill="none" stroke="#b84fe0" stroke-width="2.8" stroke-dasharray="9.6 4.6" stroke-linejoin="round"/>
<path fill="#b84fe0" d="M655.2,289.0a4.1,4.1 0 1,0 8.2,0a4.1,4.1 0 1,0 -8.2,0ZM658.7,296.6a4.1,4.1 0 1,0 8.2,0a4.1,4.1 0 1,0 -8.2,0ZM662.2,294.6a4.1,4.1 0 1,0 8.2,0a4.1,4.1 0 1,0 -8.2,0ZM665.7,294.0a4.1,4.1 0 1,0 8.2,0a4.1,4.1 0 1,0 -8.2,0ZM669.1,293.5a4.1,4.1 0 1,0 8.2,0a4.1,4.1 0 1,0 -8.2,0ZM672.6,299.2a4.1,4.1 0 1,0 8.2,0a4.1,4.1 0 1,0 -8.2,0ZM676.1,298.7a4.1,4.1 0 1,0 8.2,0a4.1,4.1 0 1,0 -8.2,0ZM679.6,295.7a4.1,4.1 0 1,0 8.2,0a4.1,4.1 0 1,0 -8.2,0ZM683.1,297.1a4.1,4.1 0 1,0 8.2,0a4.1,4.1 0 1,0 -8.2,0ZM686.6,290.4a4.1,4.1 0 1,0 8.2,0a4.1,4.1 0 1,0 -8.2,0ZM690.1,289.4a4.1,4.1 0 1,0 8.2,0a4.1,4.1 0 1,0 -8.2,0ZM693.6,284.6a4.1,4.1 0 1,0 8.2,0a4.1,4.1 0 1,0 -8.2,0ZM697.1,294.2a4.1,4.1 0 1,0 8.2,0a4.1,4.1 0 1,0 -8.2,0ZM700.6,276.5a4.1,4.1 0 1,0 8.2,0a4.1,4.1 0 1,0 -8.2,0ZM704.1,280.3a4.1,4.1 0 1,0 8.2,0a4.1,4.1 0 1,0 -8.2,0ZM707.6,282.7a4.1,4.1 0 1,0 8.2,0a4.1,4.1 0 1,0 -8.2,0ZM711.0,283.7a4.1,4.1 0 1,0 8.2,0a4.1,4.1 0 1,0 -8.2,0ZM714.5,290.9a4.1,4.1 0 1,0 8.2,0a4.1,4.1 0 1,0 -8.2,0ZM718.0,281.3a4.1,4.1 0 1,0 8.2,0a4.1,4.1 0 1,0 -8.2,0ZM721.5,272.3a4.1,4.1 0 1,0 8.2,0a4.1,4.1 0 1,0 -8.2,0ZM725.0,277.6a4.1,4.1 0 1,0 8.2,0a4.1,4.1 0 1,0 -8.2,0ZM728.5,280.0a4.1,4.1 0 1,0 8.2,0a4.1,4.1 0 1,0 -8.2,0ZM732.0,270.5a4.1,4.1 0 1,0 8.2,0a4.1,4.1 0 1,0 -8.2,0ZM735.5,270.1a4.1,4.1 0 1,0 8.2,0a4.1,4.1 0 1,0 -8.2,0ZM739.0,272.0a4.1,4.1 0 1,0 8.2,0a4.1,4.1 0 1,0 -8.2,0ZM742.5,263.5a4.1,4.1 0 1,0 8.2,0a4.1,4.1 0 1,0 -8.2,0ZM746.0,273.6a4.1,4.1 0 1,0 8.2,0a4.1,4.1 0 1,0 -8.2,0ZM749.4,264.6a4.1,4.1 0 1,0 8.2,0a4.1,4.1 0 1,0 -8.2,0ZM752.9,266.6a4.1,4.1 0 1,0 8.2,0a4.1,4.1 0 1,0 -8.2,0ZM756.4,260.0a4.1,4.1 0 1,0 8.2,0a4.1,4.1 0 1,0 -8.2,0ZM759.9,263.4a4.1,4.1 0 1,0 8.2,0a4.1,4.1 0 1,0 -8.2,0ZM763.4,259.2a4.1,4.1 0 1,0 8.2,0a4.1,4.1 0 1,0 -8.2,0ZM766.9,263.6a4.1,4.1 0 1,0 8.2,0a4.1,4.1 0 1,0 -8.2,0ZM770.4,266.1a4.1,4.1 0 1,0 8.2,0a4.1,4.1 0 1,0 -8.2,0ZM773.9,270.1a4.1,4.1 0 1,0 8.2,0a4.1,4.1 0 1,0 -8.2,0ZM777.4,274.0a4.1,4.1 0 1,0 8.2,0a4.1,4.1 0 1,0 -8.2,0ZM780.9,286.1a4.1,4.1 0 1,0 8.2,0a4.1,4.1 0 1,0 -8.2,0ZM784.4,291.0a4.1,4.1 0 1,0 8.2,0a4.1,4.1 0 1,0 -8.2,0ZM787.9,280.8a4.1,4.1 0 1,0 8.2,0a4.1,4.1 0 1,0 -8.2,0ZM791.3,281.0a4.1,4.1 0 1,0 8.2,0a4.1,4.1 0 1,0 -8.2,0ZM794.8,285.5a4.1,4.1 0 1,0 8.2,0a4.1,4.1 0 1,0 -8.2,0ZM798.3,277.0a4.1,4.1 0 1,0 8.2,0a4.1,4.1 0 1,0 -8.2,0ZM801.8,275.3a4.1,4.1 0 1,0 8.2,0a4.1,4.1 0 1,0 -8.2,0ZM805.3,260.6a4.1,4.1 0 1,0 8.2,0a4.1,4.1 0 1,0 -8.2,0ZM808.8,277.5a4.1,4.1 0 1,0 8.2,0a4.1,4.1 0 1,0 -8.2,0ZM812.3,272.5a4.1,4.1 0 1,0 8.2,0a4.1,4.1 0 1,0 -8.2,0ZM815.8,266.9a4.1,4.1 0 1,0 8.2,0a4.1,4.1 0 1,0 -8.2,0ZM819.3,255.6a4.1,4.1 0 1,0 8.2,0a4.1,4.1 0 1,0 -8.2,0ZM822.8,267.8a4.1,4.1 0 1,0 8.2,0a4.1,4.1 0 1,0 -8.2,0ZM826.3,259.9a4.1,4.1 0 1,0 8.2,0a4.1,4.1 0 1,0 -8.2,0ZM829.7,272.0a4.1,4.1 0 1,0 8.2,0a4.1,4.1 0 1,0 -8.2,0ZM833.2,275.1a4.1,4.1 0 1,0 8.2,0a4.1,4.1 0 1,0 -8.2,0ZM836.7,268.7a4.1,4.1 0 1,0 8.2,0a4.1,4.1 0 1,0 -8.2,0ZM840.2,269.4a4.1,4.1 0 1,0 8.2,0a4.1,4.1 0 1,0 -8.2,0ZM843.7,273.4a4.1,4.1 0 1,0 8.2,0a4.1,4.1 0 1,0 -8.2,0ZM847.2,267.0a4.1,4.1 0 1,0 8.2,0a4.1,4.1 0 1,0 -8.2,0ZM850.7,266.3a4.1,4.1 0 1,0 8.2,0a4.1,4.1 0 1,0 -8.2,0ZM854.2,262.7a4.1,4.1 0 1,0 8.2,0a4.1,4.1 0 1,0 -8.2,0ZM857.7,249.1a4.1,4.1 0 1,0 8.2,0a4.1,4.1 0 1,0 -8.2,0ZM861.2,256.5a4.1,4.1 0 1,0 8.2,0a4.1,4.1 0 1,0 -8.2,0ZM864.7,245.8a4.1,4.1 0 1,0 8.2,0a4.1,4.1 0 1,0 -8.2,0ZM868.1,252.8a4.1,4.1 0 1,0 8.2,0a4.1,4.1 0 1,0 -8.2,0ZM871.6,249.2a4.1,4.1 0 1,0 8.2,0a4.1,4.1 0 1,0 -8.2,0ZM875.1,236.1a4.1,4.1 0 1,0 8.2,0a4.1,4.1 0 1,0 -8.2,0ZM878.6,250.3a4.1,4.1 0 1,0 8.2,0a4.1,4.1 0 1,0 -8.2,0ZM882.1,262.1a4.1,4.1 0 1,0 8.2,0a4.1,4.1 0 1,0 -8.2,0ZM885.6,241.8a4.1,4.1 0 1,0 8.2,0a4.1,4.1 0 1,0 -8.2,0ZM889.1,254.1a4.1,4.1 0 1,0 8.2,0a4.1,4.1 0 1,0 -8.2,0ZM892.6,250.1a4.1,4.1 0 1,0 8.2,0a4.1,4.1 0 1,0 -8.2,0ZM896.1,246.6a4.1,4.1 0 1,0 8.2,0a4.1,4.1 0 1,0 -8.2,0ZM899.6,245.0a4.1,4.1 0 1,0 8.2,0a4.1,4.1 0 1,0 -8.2,0ZM903.1,243.9a4.1,4.1 0 1,0 8.2,0a4.1,4.1 0 1,0 -8.2,0ZM906.6,233.7a4.1,4.1 0 1,0 8.2,0a4.1,4.1 0 1,0 -8.2,0ZM910.0,248.9a4.1,4.1 0 1,0 8.2,0a4.1,4.1 0 1,0 -8.2,0ZM913.5,250.2a4.1,4.1 0 1,0 8.2,0a4.1,4.1 0 1,0 -8.2,0ZM917.0,243.5a4.1,4.1 0 1,0 8.2,0a4.1,4.1 0 1,0 -8.2,0ZM920.5,235.3a4.1,4.1 0 1,0 8.2,0a4.1,4.1 0 1,0 -8.2,0ZM924.0,225.2a4.1,4.1 0 1,0 8.2,0a4.1,4.1 0 1,0 -8.2,0ZM927.5,231.3a4.1,4.1 0 1,0 8.2,0a4.1,4.1 0 1,0 -8.2,0ZM931.0,236.4a4.1,4.1 0 1,0 8.2,0a4.1,4.1 0 1,0 -8.2,0ZM934.5,234.9a4.1,4.1 0 1,0 8.2,0a4.1,4.1 0 1,0 -8.2,0ZM938.0,233.9a4.1,4.1 0 1,0 8.2,0a4.1,4.1 0 1,0 -8.2,0ZM941.5,231.4a4.1,4.1 0 1,0 8.2,0a4.1,4.1 0 1,0 -8.2,0ZM945.0,211.3a4.1,4.1 0 1,0 8.2,0a4.1,4.1 0 1,0 -8.2,0ZM948.4,224.1a4.1,4.1 0 1,0 8.2,0a4.1,4.1 0 1,0 -8.2,0ZM951.9,221.2a4.1,4.1 0 1,0 8.2,0a4.1,4.1 0 1,0 -8.2,0ZM955.4,217.3a4.1,4.1 0 1,0 8.2,0a4.1,4.1 0 1,0 -8.2,0ZM958.9,213.4a4.1,4.1 0 1,0 8.2,0a4.1,4.1 0 1,0 -8.2,0ZM962.4,220.6a4.1,4.1 0 1,0 8.2,0a4.1,4.1 0 1,0 -8.2,0ZM965.9,210.5a4.1,4.1 0 1,0 8.2,0a4.1,4.1 0 1,0 -8.2,0ZM969.4,201.8a4.1,4.1 0 1,0 8.2,0a4.1,4.1 0 1,0 -8.2,0ZM972.9,223.8a4.1,4.1 0 1,0 8.2,0a4.1,4.1 0 1,0 -8.2,0ZM976.4,220.4a4.1,4.1 0 1,0 8.2,0a4.1,4.1 0 1,0 -8.2,0ZM979.9,222.3a4.1,4.1 0 1,0 8.2,0a4.1,4.1 0 1,0 -8.2,0ZM983.4,209.9a4.1,4.1 0 1,0 8.2,0a4.1,4.1 0 1,0 -8.2,0ZM986.9,220.0a4.1,4.1 0 1,0 8.2,0a4.1,4.1 0 1,0 -8.2,0ZM990.3,226.2a4.1,4.1 0 1,0 8.2,0a4.1,4.1 0 1,0 -8.2,0ZM993.8,231.4a4.1,4.1 0 1,0 8.2,0a4.1,4.1 0 1,0 -8.2,0ZM997.3,218.6a4.1,4.1 0 1,0 8.2,0a4.1,4.1 0 1,0 -8.2,0ZM1000.8,222.4a4.1,4.1 0 1,0 8.2,0a4.1,4.1 0 1,0 -8.2,0Z"/>
<polyline points="659.3,249.5 662.8,256.2 666.3,253.3 669.8,251.8 673.2,250.4 676.7,255.2 680.2,253.8 683.7,249.9 687.2,250.4 690.7,242.8 694.2,240.9 697.7,235.1 701.2,243.7 704.7,225.1 708.2,227.9 711.7,229.4 715.1,229.4 718.6,235.6 722.1,225.1 725.6,215.0 729.1,219.3 732.6,220.8 736.1,210.3 739.6,208.8 743.1,209.8 746.6,200.2 750.1,209.3 753.5,199.3 757.0,200.2 760.5,192.6 764.0,195.0 767.5,189.7 771.0,193.0 774.5,194.5 778.0,197.3 781.5,200.2 785.0,211.2 788.5,215.0 792.0,203.7 795.4,202.8 798.9,206.2 802.4,196.6 805.9,193.8 809.4,178.0 812.9,193.8 816.4,187.5 819.9,180.9 823.4,168.4 826.9,179.4 830.4,170.3 833.8,181.3 837.3,183.2 840.8,175.6 844.3,175.1 847.8,178.0 851.3,170.3 854.8,168.4 858.3,163.6 861.8,148.8 865.3,155.0 868.8,143.1 872.2,148.8 875.7,144.0 879.2,129.7 882.7,142.6 886.2,153.1 889.7,131.6 893.2,142.6 896.7,137.3 900.2,132.5 903.7,129.7 907.2,127.3 910.7,115.8 914.1,129.7 917.6,129.7 921.1,121.6 924.6,112.2 928.1,100.7 931.6,105.5 935.1,109.3 938.6,106.4 942.1,104.0 945.6,100.2 949.1,78.7 952.5,90.2 956.0,85.9 959.5,80.6 963.0,75.3 966.5,81.1 970.0,69.6 973.5,59.6 977.0,80.1 980.5,75.3 984.0,75.8 987.5,62.0 991.0,70.6 994.4,75.3 997.9,79.2 1001.4,64.8 1004.9,67.2" fill="none" stroke="#05b38c" stroke-width="3.1" stroke-dasharray="9.6 4.6" stroke-linejoin="round"/>
<path fill="#05b38c" stroke="#05b38c" stroke-width="2.2" stroke-linejoin="round" d="M659.3,247.3L659.9,248.6L661.4,248.8L660.3,249.8L660.6,251.2L659.3,250.6L658.0,251.2L658.2,249.8L657.2,248.8L658.6,248.6ZM662.8,254.0L663.4,255.3L664.9,255.5L663.8,256.5L664.1,257.9L662.8,257.3L661.5,257.9L661.7,256.5L660.7,255.5L662.1,255.3ZM666.3,251.1L666.9,252.4L668.4,252.6L667.3,253.6L667.6,255.1L666.3,254.4L665.0,255.1L665.2,253.6L664.2,252.6L665.6,252.4ZM669.8,249.6L670.4,251.0L671.8,251.2L670.8,252.2L671.0,253.6L669.8,252.9L668.5,253.6L668.7,252.2L667.7,251.2L669.1,251.0ZM673.2,248.2L673.9,249.5L675.3,249.7L674.3,250.8L674.5,252.2L673.2,251.5L672.0,252.2L672.2,250.8L671.2,249.7L672.6,249.5ZM676.7,253.0L677.4,254.3L678.8,254.5L677.8,255.5L678.0,257.0L676.7,256.3L675.4,257.0L675.7,255.5L674.6,254.5L676.1,254.3ZM680.2,251.6L680.9,252.9L682.3,253.1L681.3,254.1L681.5,255.5L680.2,254.9L678.9,255.5L679.2,254.1L678.1,253.1L679.6,252.9ZM683.7,247.7L684.4,249.0L685.8,249.3L684.8,250.3L685.0,251.7L683.7,251.0L682.4,251.7L682.7,250.3L681.6,249.3L683.1,249.0ZM687.2,248.2L687.9,249.5L689.3,249.7L688.3,250.8L688.5,252.2L687.2,251.5L685.9,252.2L686.2,250.8L685.1,249.7L686.6,249.5ZM690.7,240.6L691.3,241.9L692.8,242.1L691.7,243.1L692.0,244.5L690.7,243.9L689.4,244.5L689.7,243.1L688.6,242.1L690.1,241.9ZM694.2,238.7L694.8,240.0L696.3,240.2L695.2,241.2L695.5,242.6L694.2,242.0L692.9,242.6L693.1,241.2L692.1,240.2L693.5,240.0ZM697.7,232.9L698.3,234.2L699.8,234.4L698.7,235.5L699.0,236.9L697.7,236.2L696.4,236.9L696.6,235.5L695.6,234.4L697.0,234.2ZM701.2,241.5L701.8,242.8L703.3,243.0L702.2,244.1L702.5,245.5L701.2,244.8L699.9,245.5L700.1,244.1L699.1,243.0L700.5,242.8ZM704.7,222.9L705.3,224.2L706.8,224.4L705.7,225.4L706.0,226.9L704.7,226.2L703.4,226.9L703.6,225.4L702.6,224.4L704.0,224.2ZM708.2,225.7L708.8,227.1L710.3,227.3L709.2,228.3L709.5,229.7L708.2,229.0L706.9,229.7L707.1,228.3L706.1,227.3L707.5,227.1ZM711.7,227.2L712.3,228.5L713.7,228.7L712.7,229.7L712.9,231.2L711.7,230.5L710.4,231.2L710.6,229.7L709.6,228.7L711.0,228.5ZM715.1,227.2L715.8,228.5L717.2,228.7L716.2,229.7L716.4,231.2L715.1,230.5L713.8,231.2L714.1,229.7L713.0,228.7L714.5,228.5ZM718.6,233.4L719.3,234.7L720.7,234.9L719.7,235.9L719.9,237.4L718.6,236.7L717.3,237.4L717.6,235.9L716.5,234.9L718.0,234.7ZM722.1,222.9L722.8,224.2L724.2,224.4L723.2,225.4L723.4,226.9L722.1,226.2L720.8,226.9L721.1,225.4L720.0,224.4L721.5,224.2ZM725.6,212.8L726.3,214.1L727.7,214.4L726.7,215.4L726.9,216.8L725.6,216.1L724.3,216.8L724.6,215.4L723.5,214.4L725.0,214.1ZM729.1,217.1L729.8,218.4L731.2,218.7L730.2,219.7L730.4,221.1L729.1,220.4L727.8,221.1L728.1,219.7L727.0,218.7L728.5,218.4ZM732.6,218.6L733.2,219.9L734.7,220.1L733.6,221.1L733.9,222.6L732.6,221.9L731.3,222.6L731.6,221.1L730.5,220.1L732.0,219.9ZM736.1,208.1L736.7,209.4L738.2,209.6L737.1,210.6L737.4,212.0L736.1,211.4L734.8,212.0L735.0,210.6L734.0,209.6L735.4,209.4ZM739.6,206.6L740.2,207.9L741.7,208.1L740.6,209.2L740.9,210.6L739.6,209.9L738.3,210.6L738.5,209.2L737.5,208.1L738.9,207.9ZM743.1,207.6L743.7,208.9L745.2,209.1L744.1,210.1L744.4,211.6L743.1,210.9L741.8,211.6L742.0,210.1L741.0,209.1L742.4,208.9ZM746.6,198.0L747.2,199.3L748.7,199.5L747.6,200.6L747.9,202.0L746.6,201.3L745.3,202.0L745.5,200.6L744.5,199.5L745.9,199.3ZM750.1,207.1L750.7,208.4L752.1,208.6L751.1,209.6L751.3,211.1L750.1,210.4L748.8,211.1L749.0,209.6L748.0,208.6L749.4,208.4ZM753.5,197.1L754.2,198.4L755.6,198.6L754.6,199.6L754.8,201.0L753.5,200.4L752.3,201.0L752.5,199.6L751.5,198.6L752.9,198.4ZM757.0,198.0L757.7,199.3L759.1,199.5L758.1,200.6L758.3,202.0L757.0,201.3L755.7,202.0L756.0,200.6L754.9,199.5L756.4,199.3ZM760.5,190.4L761.2,191.7L762.6,191.9L761.6,192.9L761.8,194.3L760.5,193.7L759.2,194.3L759.5,192.9L758.4,191.9L759.9,191.7ZM764.0,192.8L764.7,194.1L766.1,194.3L765.1,195.3L765.3,196.7L764.0,196.1L762.7,196.7L763.0,195.3L761.9,194.3L763.4,194.1ZM767.5,187.5L768.2,188.8L769.6,189.0L768.6,190.0L768.8,191.5L767.5,190.8L766.2,191.5L766.5,190.0L765.4,189.0L766.9,188.8ZM771.0,190.8L771.6,192.1L773.1,192.4L772.0,193.4L772.3,194.8L771.0,194.1L769.7,194.8L770.0,193.4L768.9,192.4L770.4,192.1ZM774.5,192.3L775.1,193.6L776.6,193.8L775.5,194.8L775.8,196.3L774.5,195.6L773.2,196.3L773.4,194.8L772.4,193.8L773.8,193.6ZM778.0,195.1L778.6,196.5L780.1,196.7L779.0,197.7L779.3,199.1L778.0,198.4L776.7,199.1L776.9,197.7L775.9,196.7L777.3,196.5ZM781.5,198.0L782.1,199.3L783.6,199.5L782.5,200.6L782.8,202.0L781.5,201.3L780.2,202.0L780.4,200.6L779.4,199.5L780.8,199.3ZM785.0,209.0L785.6,210.3L787.1,210.5L786.0,211.5L786.3,213.0L785.0,212.3L783.7,213.0L783.9,211.5L782.9,210.5L784.3,210.3ZM788.5,212.8L789.1,214.1L790.6,214.4L789.5,215.4L789.8,216.8L788.5,216.1L787.2,216.8L787.4,215.4L786.4,214.4L787.8,214.1ZM792.0,201.5L792.6,202.8L794.0,203.0L793.0,204.0L793.2,205.5L792.0,204.8L790.7,205.5L790.9,204.0L789.9,203.0L791.3,202.8ZM795.4,200.6L796.1,202.0L797.5,202.2L796.5,203.2L796.7,204.6L795.4,203.9L794.1,204.6L794.4,203.2L793.3,202.2L794.8,202.0ZM798.9,204.0L799.6,205.3L801.0,205.5L800.0,206.5L800.2,208.0L798.9,207.3L797.6,208.0L797.9,206.5L796.8,205.5L798.3,205.3ZM802.4,194.4L803.1,195.7L804.5,196.0L803.5,197.0L803.7,198.4L802.4,197.7L801.1,198.4L801.4,197.0L800.3,196.0L801.8,195.7ZM805.9,191.6L806.6,192.9L808.0,193.1L807.0,194.1L807.2,195.5L805.9,194.9L804.6,195.5L804.9,194.1L803.8,193.1L805.3,192.9ZM809.4,175.8L810.1,177.1L811.5,177.3L810.5,178.3L810.7,179.8L809.4,179.1L808.1,179.8L808.4,178.3L807.3,177.3L808.8,177.1ZM812.9,191.6L813.5,192.9L815.0,193.1L813.9,194.1L814.2,195.5L812.9,194.9L811.6,195.5L811.9,194.1L810.8,193.1L812.3,192.9ZM816.4,185.3L817.0,186.7L818.5,186.9L817.4,187.9L817.7,189.3L816.4,188.6L815.1,189.3L815.3,187.9L814.3,186.9L815.7,186.7ZM819.9,178.7L820.5,180.0L822.0,180.2L820.9,181.2L821.2,182.6L819.9,182.0L818.6,182.6L818.8,181.2L817.8,180.2L819.2,180.0ZM823.4,166.2L824.0,167.5L825.5,167.7L824.4,168.8L824.7,170.2L823.4,169.5L822.1,170.2L822.3,168.8L821.3,167.7L822.7,167.5ZM826.9,177.2L827.5,178.5L829.0,178.7L827.9,179.8L828.2,181.2L826.9,180.5L825.6,181.2L825.8,179.8L824.8,178.7L826.2,178.5ZM830.4,168.1L831.0,169.4L832.4,169.7L831.4,170.7L831.6,172.1L830.4,171.4L829.1,172.1L829.3,170.7L828.3,169.7L829.7,169.4ZM833.8,179.1L834.5,180.4L835.9,180.7L834.9,181.7L835.1,183.1L833.8,182.4L832.6,183.1L832.8,181.7L831.8,180.7L833.2,180.4ZM837.3,181.0L838.0,182.4L839.4,182.6L838.4,183.6L838.6,185.0L837.3,184.3L836.0,185.0L836.3,183.6L835.2,182.6L836.7,182.4ZM840.8,173.4L841.5,174.7L842.9,174.9L841.9,175.9L842.1,177.4L840.8,176.7L839.5,177.4L839.8,175.9L838.7,174.9L840.2,174.7ZM844.3,172.9L845.0,174.2L846.4,174.4L845.4,175.5L845.6,176.9L844.3,176.2L843.0,176.9L843.3,175.5L842.2,174.4L843.7,174.2ZM847.8,175.8L848.5,177.1L849.9,177.3L848.9,178.3L849.1,179.8L847.8,179.1L846.5,179.8L846.8,178.3L845.7,177.3L847.2,177.1ZM851.3,168.1L851.9,169.4L853.4,169.7L852.3,170.7L852.6,172.1L851.3,171.4L850.0,172.1L850.3,170.7L849.2,169.7L850.7,169.4ZM854.8,166.2L855.4,167.5L856.9,167.7L855.8,168.8L856.1,170.2L854.8,169.5L853.5,170.2L853.7,168.8L852.7,167.7L854.1,167.5ZM858.3,161.4L858.9,162.7L860.4,163.0L859.3,164.0L859.6,165.4L858.3,164.7L857.0,165.4L857.2,164.0L856.2,163.0L857.6,162.7ZM861.8,146.6L862.4,147.9L863.9,148.1L862.8,149.2L863.1,150.6L861.8,149.9L860.5,150.6L860.7,149.2L859.7,148.1L861.1,147.9ZM865.3,152.8L865.9,154.1L867.4,154.4L866.3,155.4L866.6,156.8L865.3,156.1L864.0,156.8L864.2,155.4L863.2,154.4L864.6,154.1ZM868.8,140.9L869.4,142.2L870.9,142.4L869.8,143.4L870.1,144.9L868.8,144.2L867.5,144.9L867.7,143.4L866.7,142.4L868.1,142.2ZM872.2,146.6L872.9,147.9L874.3,148.1L873.3,149.2L873.5,150.6L872.2,149.9L871.0,150.6L871.2,149.2L870.2,148.1L871.6,147.9ZM875.7,141.8L876.4,143.1L877.8,143.4L876.8,144.4L877.0,145.8L875.7,145.1L874.4,145.8L874.7,144.4L873.6,143.4L875.1,143.1ZM879.2,127.5L879.9,128.8L881.3,129.0L880.3,130.0L880.5,131.5L879.2,130.8L877.9,131.5L878.2,130.0L877.1,129.0L878.6,128.8ZM882.7,140.4L883.4,141.7L884.8,141.9L883.8,142.9L884.0,144.4L882.7,143.7L881.4,144.4L881.7,142.9L880.6,141.9L882.1,141.7ZM886.2,150.9L886.9,152.2L888.3,152.4L887.3,153.5L887.5,154.9L886.2,154.2L884.9,154.9L885.2,153.5L884.1,152.4L885.6,152.2ZM889.7,129.4L890.4,130.7L891.8,130.9L890.8,131.9L891.0,133.4L889.7,132.7L888.4,133.4L888.7,131.9L887.6,130.9L889.1,130.7ZM893.2,140.4L893.8,141.7L895.3,141.9L894.2,142.9L894.5,144.4L893.2,143.7L891.9,144.4L892.2,142.9L891.1,141.9L892.6,141.7ZM896.7,135.1L897.3,136.4L898.8,136.6L897.7,137.7L898.0,139.1L896.7,138.4L895.4,139.1L895.6,137.7L894.6,136.6L896.0,136.4ZM900.2,130.3L900.8,131.7L902.3,131.9L901.2,132.9L901.5,134.3L900.2,133.6L898.9,134.3L899.1,132.9L898.1,131.9L899.5,131.7ZM903.7,127.5L904.3,128.8L905.8,129.0L904.7,130.0L905.0,131.5L903.7,130.8L902.4,131.5L902.6,130.0L901.6,129.0L903.0,128.8ZM907.2,125.1L907.8,126.4L909.3,126.6L908.2,127.6L908.5,129.1L907.2,128.4L905.9,129.1L906.1,127.6L905.1,126.6L906.5,126.4ZM910.7,113.6L911.3,114.9L912.7,115.1L911.7,116.1L911.9,117.6L910.7,116.9L909.4,117.6L909.6,116.1L908.6,115.1L910.0,114.9ZM914.1,127.5L914.8,128.8L916.2,129.0L915.2,130.0L915.4,131.5L914.1,130.8L912.9,131.5L913.1,130.0L912.1,129.0L913.5,128.8ZM917.6,127.5L918.3,128.8L919.7,129.0L918.7,130.0L918.9,131.5L917.6,130.8L916.3,131.5L916.6,130.0L915.5,129.0L917.0,128.8ZM921.1,119.4L921.8,120.8L923.2,121.0L922.2,122.0L922.4,123.4L921.1,122.7L919.8,123.4L920.1,122.0L919.0,121.0L920.5,120.8ZM924.6,110.0L925.3,111.3L926.7,111.5L925.7,112.5L925.9,113.9L924.6,113.3L923.3,113.9L923.6,112.5L922.5,111.5L924.0,111.3ZM928.1,98.5L928.8,99.8L930.2,100.0L929.2,101.0L929.4,102.5L928.1,101.8L926.8,102.5L927.1,101.0L926.0,100.0L927.5,99.8ZM931.6,103.3L932.2,104.6L933.7,104.8L932.6,105.8L932.9,107.2L931.6,106.6L930.3,107.2L930.6,105.8L929.5,104.8L931.0,104.6ZM935.1,107.1L935.7,108.4L937.2,108.6L936.1,109.6L936.4,111.1L935.1,110.4L933.8,111.1L934.0,109.6L933.0,108.6L934.4,108.4ZM938.6,104.2L939.2,105.5L940.7,105.7L939.6,106.8L939.9,108.2L938.6,107.5L937.3,108.2L937.5,106.8L936.5,105.7L937.9,105.5ZM942.1,101.8L942.7,103.1L944.2,103.4L943.1,104.4L943.4,105.8L942.1,105.1L940.8,105.8L941.0,104.4L940.0,103.4L941.4,103.1ZM945.6,98.0L946.2,99.3L947.7,99.5L946.6,100.5L946.9,102.0L945.6,101.3L944.3,102.0L944.5,100.5L943.5,99.5L944.9,99.3ZM949.1,76.5L949.7,77.8L951.2,78.0L950.1,79.0L950.4,80.5L949.1,79.8L947.8,80.5L948.0,79.0L947.0,78.0L948.4,77.8ZM952.5,88.0L953.2,89.3L954.6,89.5L953.6,90.5L953.8,91.9L952.5,91.3L951.3,91.9L951.5,90.5L950.5,89.5L951.9,89.3ZM956.0,83.7L956.7,85.0L958.1,85.2L957.1,86.2L957.3,87.6L956.0,87.0L954.7,87.6L955.0,86.2L953.9,85.2L955.4,85.0ZM959.5,78.4L960.2,79.7L961.6,79.9L960.6,80.9L960.8,82.4L959.5,81.7L958.2,82.4L958.5,80.9L957.4,79.9L958.9,79.7ZM963.0,73.1L963.7,74.5L965.1,74.7L964.1,75.7L964.3,77.1L963.0,76.4L961.7,77.1L962.0,75.7L960.9,74.7L962.4,74.5ZM966.5,78.9L967.2,80.2L968.6,80.4L967.6,81.4L967.8,82.9L966.5,82.2L965.2,82.9L965.5,81.4L964.4,80.4L965.9,80.2ZM970.0,67.4L970.7,68.7L972.1,68.9L971.1,69.9L971.3,71.4L970.0,70.7L968.7,71.4L969.0,69.9L967.9,68.9L969.4,68.7ZM973.5,57.4L974.1,58.7L975.6,58.9L974.5,59.9L974.8,61.3L973.5,60.7L972.2,61.3L972.5,59.9L971.4,58.9L972.9,58.7ZM977.0,77.9L977.6,79.2L979.1,79.4L978.0,80.5L978.3,81.9L977.0,81.2L975.7,81.9L975.9,80.5L974.9,79.4L976.3,79.2ZM980.5,73.1L981.1,74.5L982.6,74.7L981.5,75.7L981.8,77.1L980.5,76.4L979.2,77.1L979.4,75.7L978.4,74.7L979.8,74.5ZM984.0,73.6L984.6,74.9L986.1,75.1L985.0,76.2L985.3,77.6L984.0,76.9L982.7,77.6L982.9,76.2L981.9,75.1L983.3,74.9ZM987.5,59.8L988.1,61.1L989.6,61.3L988.5,62.3L988.8,63.7L987.5,63.1L986.2,63.7L986.4,62.3L985.4,61.3L986.8,61.1ZM991.0,68.4L991.6,69.7L993.0,69.9L992.0,70.9L992.2,72.3L991.0,71.7L989.7,72.3L989.9,70.9L988.9,69.9L990.3,69.7ZM994.4,73.1L995.1,74.5L996.5,74.7L995.5,75.7L995.7,77.1L994.4,76.4L993.2,77.1L993.4,75.7L992.4,74.7L993.8,74.5ZM997.9,77.0L998.6,78.3L1000.0,78.5L999.0,79.5L999.2,80.9L997.9,80.3L996.6,80.9L996.9,79.5L995.8,78.5L997.3,78.3ZM1001.4,62.6L1002.1,63.9L1003.5,64.1L1002.5,65.2L1002.7,66.6L1001.4,65.9L1000.1,66.6L1000.4,65.2L999.3,64.1L1000.8,63.9ZM1004.9,65.0L1005.6,66.3L1007.0,66.5L1006.0,67.6L1006.2,69.0L1004.9,68.3L1003.6,69.0L1003.9,67.6L1002.8,66.5L1004.3,66.3Z"/>
<polyline points="659.3,307.6 662.8,307.1 666.3,306.6 669.8,306.0 673.2,305.5 676.7,305.0 680.2,304.5 683.7,304.0 687.2,303.5 690.7,303.0 694.2,302.5 697.7,302.0 701.2,301.5 704.7,301.1 708.2,300.6 711.7,300.1 715.1,299.6 718.6,299.1 722.1,298.7 725.6,298.2 729.1,297.7 732.6,297.2 736.1,296.8 739.6,296.3 743.1,295.8 746.6,295.4 750.1,294.9 753.5,294.4 757.0,293.9 760.5,293.4 764.0,293.0 767.5,292.5 771.0,292.0 774.5,291.5 778.0,291.0 781.5,290.5 785.0,290.0 788.5,289.5 792.0,289.0 795.4,288.5 798.9,288.0 802.4,287.5 805.9,287.0 809.4,286.4 812.9,285.9 816.4,285.4 819.9,284.8 823.4,284.3 826.9,283.7 830.4,283.2 833.8,282.6 837.3,282.0 840.8,281.4 844.3,280.8 847.8,280.2 851.3,279.6 854.8,279.0 858.3,278.4 861.8,277.8 865.3,277.1 868.8,276.5 872.2,275.8 875.7,275.1 879.2,274.4 882.7,273.7 886.2,273.0 889.7,272.3 893.2,271.6 896.7,270.9 900.2,270.1 903.7,269.4 907.2,268.6 910.7,267.8 914.1,267.0 917.6,266.2 921.1,265.4 924.6,264.5 928.1,263.7 931.6,262.8 935.1,261.9 938.6,261.0 942.1,260.1 945.6,259.2 949.1,258.2 952.5,257.3 956.0,256.3 959.5,255.3 963.0,254.3 966.5,253.3 970.0,252.3 973.5,251.2 977.0,250.1 980.5,249.0 984.0,247.9 987.5,246.8 991.0,245.7 994.4,244.5 997.9,243.3 1001.4,242.1 1004.9,240.9" fill="none" stroke="#00d2fa" stroke-width="2.2"/>
<path fill="#00d2fa" d="M659.3,302.6L664.3,312.6L654.3,312.6ZM662.8,302.1L667.8,312.1L657.8,312.1ZM666.3,301.6L671.3,311.6L661.3,311.6ZM669.8,301.0L674.8,311.0L664.8,311.0ZM673.2,300.5L678.2,310.5L668.2,310.5ZM676.7,300.0L681.7,310.0L671.7,310.0ZM680.2,299.5L685.2,309.5L675.2,309.5ZM683.7,299.0L688.7,309.0L678.7,309.0ZM687.2,298.5L692.2,308.5L682.2,308.5ZM690.7,298.0L695.7,308.0L685.7,308.0ZM694.2,297.5L699.2,307.5L689.2,307.5ZM697.7,297.0L702.7,307.0L692.7,307.0ZM701.2,296.5L706.2,306.5L696.2,306.5ZM704.7,296.1L709.7,306.1L699.7,306.1ZM708.2,295.6L713.2,305.6L703.2,305.6ZM711.7,295.1L716.7,305.1L706.7,305.1ZM715.1,294.6L720.1,304.6L710.1,304.6ZM718.6,294.1L723.6,304.1L713.6,304.1ZM722.1,293.7L727.1,303.7L717.1,303.7ZM725.6,293.2L730.6,303.2L720.6,303.2ZM729.1,292.7L734.1,302.7L724.1,302.7ZM732.6,292.2L737.6,302.2L727.6,302.2ZM736.1,291.8L741.1,301.8L731.1,301.8ZM739.6,291.3L744.6,301.3L734.6,301.3ZM743.1,290.8L748.1,300.8L738.1,300.8ZM746.6,290.4L751.6,300.4L741.6,300.4ZM750.1,289.9L755.1,299.9L745.1,299.9ZM753.5,289.4L758.5,299.4L748.5,299.4ZM757.0,288.9L762.0,298.9L752.0,298.9ZM760.5,288.4L765.5,298.4L755.5,298.4ZM764.0,288.0L769.0,298.0L759.0,298.0ZM767.5,287.5L772.5,297.5L762.5,297.5ZM771.0,287.0L776.0,297.0L766.0,297.0ZM774.5,286.5L779.5,296.5L769.5,296.5ZM778.0,286.0L783.0,296.0L773.0,296.0ZM781.5,285.5L786.5,295.5L776.5,295.5ZM785.0,285.0L790.0,295.0L780.0,295.0ZM788.5,284.5L793.5,294.5L783.5,294.5ZM792.0,284.0L797.0,294.0L787.0,294.0ZM795.4,283.5L800.4,293.5L790.4,293.5ZM798.9,283.0L803.9,293.0L793.9,293.0ZM802.4,282.5L807.4,292.5L797.4,292.5ZM805.9,282.0L810.9,292.0L800.9,292.0ZM809.4,281.4L814.4,291.4L804.4,291.4ZM812.9,280.9L817.9,290.9L807.9,290.9ZM816.4,280.4L821.4,290.4L811.4,290.4ZM819.9,279.8L824.9,289.8L814.9,289.8ZM823.4,279.3L828.4,289.3L818.4,289.3ZM826.9,278.7L831.9,288.7L821.9,288.7ZM830.4,278.2L835.4,288.2L825.4,288.2ZM833.8,277.6L838.8,287.6L828.8,287.6ZM837.3,277.0L842.3,287.0L832.3,287.0ZM840.8,276.4L845.8,286.4L835.8,286.4ZM844.3,275.8L849.3,285.8L839.3,285.8ZM847.8,275.2L852.8,285.2L842.8,285.2ZM851.3,274.6L856.3,284.6L846.3,284.6ZM854.8,274.0L859.8,284.0L849.8,284.0ZM858.3,273.4L863.3,283.4L853.3,283.4ZM861.8,272.8L866.8,282.8L856.8,282.8ZM865.3,272.1L870.3,282.1L860.3,282.1ZM868.8,271.5L873.8,281.5L863.8,281.5ZM872.2,270.8L877.2,280.8L867.2,280.8ZM875.7,270.1L880.7,280.1L870.7,280.1ZM879.2,269.4L884.2,279.4L874.2,279.4ZM882.7,268.7L887.7,278.7L877.7,278.7ZM886.2,268.0L891.2,278.0L881.2,278.0ZM889.7,267.3L894.7,277.3L884.7,277.3ZM893.2,266.6L898.2,276.6L888.2,276.6ZM896.7,265.9L901.7,275.9L891.7,275.9ZM900.2,265.1L905.2,275.1L895.2,275.1ZM903.7,264.4L908.7,274.4L898.7,274.4ZM907.2,263.6L912.2,273.6L902.2,273.6ZM910.7,262.8L915.7,272.8L905.7,272.8ZM914.1,262.0L919.1,272.0L909.1,272.0ZM917.6,261.2L922.6,271.2L912.6,271.2ZM921.1,260.4L926.1,270.4L916.1,270.4ZM924.6,259.5L929.6,269.5L919.6,269.5ZM928.1,258.7L933.1,268.7L923.1,268.7ZM931.6,257.8L936.6,267.8L926.6,267.8ZM935.1,256.9L940.1,266.9L930.1,266.9ZM938.6,256.0L943.6,266.0L933.6,266.0ZM942.1,255.1L947.1,265.1L937.1,265.1ZM945.6,254.2L950.6,264.2L940.6,264.2ZM949.1,253.2L954.1,263.2L944.1,263.2ZM952.5,252.3L957.5,262.3L947.5,262.3ZM956.0,251.3L961.0,261.3L951.0,261.3ZM959.5,250.3L964.5,260.3L954.5,260.3ZM963.0,249.3L968.0,259.3L958.0,259.3ZM966.5,248.3L971.5,258.3L961.5,258.3ZM970.0,247.3L975.0,257.3L965.0,257.3ZM973.5,246.2L978.5,256.2L968.5,256.2ZM977.0,245.1L982.0,255.1L972.0,255.1ZM980.5,244.0L985.5,254.0L975.5,254.0ZM984.0,242.9L989.0,252.9L979.0,252.9ZM987.5,241.8L992.5,251.8L982.5,251.8ZM991.0,240.7L996.0,250.7L986.0,250.7ZM994.4,239.5L999.4,249.5L989.4,249.5ZM997.9,238.3L1002.9,248.3L992.9,248.3ZM1001.4,237.1L1006.4,247.1L996.4,247.1ZM1004.9,235.9L1009.9,245.9L999.9,245.9Z"/>
</g>
<g id="top2">
<polyline points="1078.0,326.0 1081.5,336.3 1085.0,330.9 1088.5,320.7 1091.9,329.6 1095.4,324.2 1098.9,328.8 1102.4,332.5 1105.9,336.1 1109.4,327.8 1112.9,333.9 1116.4,339.5 1119.9,348.9 1123.4,322.5 1126.9,329.0 1130.4,323.2 1133.8,316.4 1137.3,319.1 1140.8,308.9 1144.3,314.5 1147.8,330.2 1151.3,338.2 1154.8,326.1 1158.3,321.3 1161.8,321.2 1165.3,325.3 1168.8,312.3 1172.2,326.1 1175.7,311.7 1179.2,312.1 1182.7,317.7 1186.2,309.0 1189.7,305.6 1193.2,306.9 1196.7,315.0 1200.2,326.4 1203.7,332.5 1207.2,319.8 1210.7,312.3 1214.1,312.2 1217.6,311.7 1221.1,320.2 1224.6,322.6 1228.1,318.2 1231.6,321.0 1235.1,326.7 1238.6,322.4 1242.1,308.5 1245.6,323.3 1249.1,308.9 1252.5,315.1 1256.0,303.1 1259.5,310.7 1263.0,299.2 1266.5,312.6 1270.0,316.9 1273.5,327.4 1277.0,315.4 1280.5,319.2 1284.0,325.4 1287.5,316.4 1290.9,328.3 1294.4,321.1 1297.9,311.6 1301.4,301.6 1304.9,319.7 1308.4,317.4 1311.9,321.2 1315.4,316.9 1318.9,313.1 1322.4,316.0 1325.9,303.1 1329.4,303.2 1332.8,311.8 1336.3,312.8 1339.8,301.7 1343.3,294.5 1346.8,291.6 1350.3,303.2 1353.8,300.4 1357.3,297.5 1360.8,295.7 1364.3,304.8 1367.8,306.8 1371.2,285.4 1374.7,289.7 1378.2,298.9 1381.7,300.4 1385.2,304.3 1388.7,291.0 1392.2,289.2 1395.7,291.2 1399.2,292.7 1402.7,290.4 1406.2,287.2 1409.7,289.2 1413.1,280.2 1416.6,290.8 1420.1,276.1 1423.6,282.9" fill="none" stroke="#b84fe0" stroke-width="2.8" stroke-dasharray="9.6 4.6" stroke-linejoin="round"/>
<path fill="#b84fe0" d="M1073.9,326.0a4.1,4.1 0 1,0 8.2,0a4.1,4.1 0 1,0 -8.2,0ZM1077.4,336.3a4.1,4.1 0 1,0 8.2,0a4.1,4.1 0 1,0 -8.2,0ZM1080.9,330.9a4.1,4.1 0 1,0 8.2,0a4.1,4.1 0 1,0 -8.2,0ZM1084.4,320.7a4.1,4.1 0 1,0 8.2,0a4.1,4.1 0 1,0 -8.2,0ZM1087.8,329.6a4.1,4.1 0 1,0 8.2,0a4.1,4.1 0 1,0 -8.2,0ZM1091.3,324.2a4.1,4.1 0 1,0 8.2,0a4.1,4.1 0 1,0 -8.2,0ZM1094.8,328.8a4.1,4.1 0 1,0 8.2,0a4.1,4.1 0 1,0 -8.2,0ZM1098.3,332.5a4.1,4.1 0 1,0 8.2,0a4.1,4.1 0 1,0 -8.2,0ZM1101.8,336.1a4.1,4.1 0 1,0 8.2,0a4.1,4.1 0 1,0 -8.2,0ZM1105.3,327.8a4.1,4.1 0 1,0 8.2,0a4.1,4.1 0 1,0 -8.2,0ZM1108.8,333.9a4.1,4.1 0 1,0 8.2,0a4.1,4.1 0 1,0 -8.2,0ZM1112.3,339.5a4.1,4.1 0 1,0 8.2,0a4.1,4.1 0 1,0 -8.2,0ZM1115.8,348.9a4.1,4.1 0 1,0 8.2,0a4.1,4.1 0 1,0 -8.2,0ZM1119.3,322.5a4.1,4.1 0 1,0 8.2,0a4.1,4.1 0 1,0 -8.2,0ZM1122.8,329.0a4.1,4.1 0 1,0 8.2,0a4.1,4.1 0 1,0 -8.2,0ZM1126.3,323.2a4.1,4.1 0 1,0 8.2,0a4.1,4.1 0 1,0 -8.2,0ZM1129.7,316.4a4.1,4.1 0 1,0 8.2,0a4.1,4.1 0 1,0 -8.2,0ZM1133.2,319.1a4.1,4.1 0 1,0 8.2,0a4.1,4.1 0 1,0 -8.2,0ZM1136.7,308.9a4.1,4.1 0 1,0 8.2,0a4.1,4.1 0 1,0 -8.2,0ZM1140.2,314.5a4.1,4.1 0 1,0 8.2,0a4.1,4.1 0 1,0 -8.2,0ZM1143.7,330.2a4.1,4.1 0 1,0 8.2,0a4.1,4.1 0 1,0 -8.2,0ZM1147.2,338.2a4.1,4.1 0 1,0 8.2,0a4.1,4.1 0 1,0 -8.2,0ZM1150.7,326.1a4.1,4.1 0 1,0 8.2,0a4.1,4.1 0 1,0 -8.2,0ZM1154.2,321.3a4.1,4.1 0 1,0 8.2,0a4.1,4.1 0 1,0 -8.2,0ZM1157.7,321.2a4.1,4.1 0 1,0 8.2,0a4.1,4.1 0 1,0 -8.2,0ZM1161.2,325.3a4.1,4.1 0 1,0 8.2,0a4.1,4.1 0 1,0 -8.2,0ZM1164.7,312.3a4.1,4.1 0 1,0 8.2,0a4.1,4.1 0 1,0 -8.2,0ZM1168.1,326.1a4.1,4.1 0 1,0 8.2,0a4.1,4.1 0 1,0 -8.2,0ZM1171.6,311.7a4.1,4.1 0 1,0 8.2,0a4.1,4.1 0 1,0 -8.2,0ZM1175.1,312.1a4.1,4.1 0 1,0 8.2,0a4.1,4.1 0 1,0 -8.2,0ZM1178.6,317.7a4.1,4.1 0 1,0 8.2,0a4.1,4.1 0 1,0 -8.2,0ZM1182.1,309.0a4.1,4.1 0 1,0 8.2,0a4.1,4.1 0 1,0 -8.2,0ZM1185.6,305.6a4.1,4.1 0 1,0 8.2,0a4.1,4.1 0 1,0 -8.2,0ZM1189.1,306.9a4.1,4.1 0 1,0 8.2,0a4.1,4.1 0 1,0 -8.2,0ZM1192.6,315.0a4.1,4.1 0 1,0 8.2,0a4.1,4.1 0 1,0 -8.2,0ZM1196.1,326.4a4.1,4.1 0 1,0 8.2,0a4.1,4.1 0 1,0 -8.2,0ZM1199.6,332.5a4.1,4.1 0 1,0 8.2,0a4.1,4.1 0 1,0 -8.2,0ZM1203.1,319.8a4.1,4.1 0 1,0 8.2,0a4.1,4.1 0 1,0 -8.2,0ZM1206.6,312.3a4.1,4.1 0 1,0 8.2,0a4.1,4.1 0 1,0 -8.2,0ZM1210.0,312.2a4.1,4.1 0 1,0 8.2,0a4.1,4.1 0 1,0 -8.2,0ZM1213.5,311.7a4.1,4.1 0 1,0 8.2,0a4.1,4.1 0 1,0 -8.2,0ZM1217.0,320.2a4.1,4.1 0 1,0 8.2,0a4.1,4.1 0 1,0 -8.2,0ZM1220.5,322.6a4.1,4.1 0 1,0 8.2,0a4.1,4.1 0 1,0 -8.2,0ZM1224.0,318.2a4.1,4.1 0 1,0 8.2,0a4.1,4.1 0 1,0 -8.2,0ZM1227.5,321.0a4.1,4.1 0 1,0 8.2,0a4.1,4.1 0 1,0 -8.2,0ZM1231.0,326.7a4.1,4.1 0 1,0 8.2,0a4.1,4.1 0 1,0 -8.2,0ZM1234.5,322.4a4.1,4.1 0 1,0 8.2,0a4.1,4.1 0 1,0 -8.2,0ZM1238.0,308.5a4.1,4.1 0 1,0 8.2,0a4.1,4.1 0 1,0 -8.2,0ZM1241.5,323.3a4.1,4.1 0 1,0 8.2,0a4.1,4.1 0 1,0 -8.2,0ZM1245.0,308.9a4.1,4.1 0 1,0 8.2,0a4.1,4.1 0 1,0 -8.2,0ZM1248.4,315.1a4.1,4.1 0 1,0 8.2,0a4.1,4.1 0 1,0 -8.2,0ZM1251.9,303.1a4.1,4.1 0 1,0 8.2,0a4.1,4.1 0 1,0 -8.2,0ZM1255.4,310.7a4.1,4.1 0 1,0 8.2,0a4.1,4.1 0 1,0 -8.2,0ZM1258.9,299.2a4.1,4.1 0 1,0 8.2,0a4.1,4.1 0 1,0 -8.2,0ZM1262.4,312.6a4.1,4.1 0 1,0 8.2,0a4.1,4.1 0 1,0 -8.2,0ZM1265.9,316.9a4.1,4.1 0 1,0 8.2,0a4.1,4.1 0 1,0 -8.2,0ZM1269.4,327.4a4.1,4.1 0 1,0 8.2,0a4.1,4.1 0 1,0 -8.2,0ZM1272.9,315.4a4.1,4.1 0 1,0 8.2,0a4.1,4.1 0 1,0 -8.2,0ZM1276.4,319.2a4.1,4.1 0 1,0 8.2,0a4.1,4.1 0 1,0 -8.2,0ZM1279.9,325.4a4.1,4.1 0 1,0 8.2,0a4.1,4.1 0 1,0 -8.2,0ZM1283.4,316.4a4.1,4.1 0 1,0 8.2,0a4.1,4.1 0 1,0 -8.2,0ZM1286.8,328.3a4.1,4.1 0 1,0 8.2,0a4.1,4.1 0 1,0 -8.2,0ZM1290.3,321.1a4.1,4.1 0 1,0 8.2,0a4.1,4.1 0 1,0 -8.2,0ZM1293.8,311.6a4.1,4.1 0 1,0 8.2,0a4.1,4.1 0 1,0 -8.2,0ZM1297.3,301.6a4.1,4.1 0 1,0 8.2,0a4.1,4.1 0 1,0 -8.2,0ZM1300.8,319.7a4.1,4.1 0 1,0 8.2,0a4.1,4.1 0 1,0 -8.2,0ZM1304.3,317.4a4.1,4.1 0 1,0 8.2,0a4.1,4.1 0 1,0 -8.2,0ZM1307.8,321.2a4.1,4.1 0 1,0 8.2,0a4.1,4.1 0 1,0 -8.2,0ZM1311.3,316.9a4.1,4.1 0 1,0 8.2,0a4.1,4.1 0 1,0 -8.2,0ZM1314.8,313.1a4.1,4.1 0 1,0 8.2,0a4.1,4.1 0 1,0 -8.2,0ZM1318.3,316.0a4.1,4.1 0 1,0 8.2,0a4.1,4.1 0 1,0 -8.2,0ZM1321.8,303.1a4.1,4.1 0 1,0 8.2,0a4.1,4.1 0 1,0 -8.2,0ZM1325.3,303.2a4.1,4.1 0 1,0 8.2,0a4.1,4.1 0 1,0 -8.2,0ZM1328.7,311.8a4.1,4.1 0 1,0 8.2,0a4.1,4.1 0 1,0 -8.2,0ZM1332.2,312.8a4.1,4.1 0 1,0 8.2,0a4.1,4.1 0 1,0 -8.2,0ZM1335.7,301.7a4.1,4.1 0 1,0 8.2,0a4.1,4.1 0 1,0 -8.2,0ZM1339.2,294.5a4.1,4.1 0 1,0 8.2,0a4.1,4.1 0 1,0 -8.2,0ZM1342.7,291.6a4.1,4.1 0 1,0 8.2,0a4.1,4.1 0 1,0 -8.2,0ZM1346.2,303.2a4.1,4.1 0 1,0 8.2,0a4.1,4.1 0 1,0 -8.2,0ZM1349.7,300.4a4.1,4.1 0 1,0 8.2,0a4.1,4.1 0 1,0 -8.2,0ZM1353.2,297.5a4.1,4.1 0 1,0 8.2,0a4.1,4.1 0 1,0 -8.2,0ZM1356.7,295.7a4.1,4.1 0 1,0 8.2,0a4.1,4.1 0 1,0 -8.2,0ZM1360.2,304.8a4.1,4.1 0 1,0 8.2,0a4.1,4.1 0 1,0 -8.2,0ZM1363.7,306.8a4.1,4.1 0 1,0 8.2,0a4.1,4.1 0 1,0 -8.2,0ZM1367.1,285.4a4.1,4.1 0 1,0 8.2,0a4.1,4.1 0 1,0 -8.2,0ZM1370.6,289.7a4.1,4.1 0 1,0 8.2,0a4.1,4.1 0 1,0 -8.2,0ZM1374.1,298.9a4.1,4.1 0 1,0 8.2,0a4.1,4.1 0 1,0 -8.2,0ZM1377.6,300.4a4.1,4.1 0 1,0 8.2,0a4.1,4.1 0 1,0 -8.2,0ZM1381.1,304.3a4.1,4.1 0 1,0 8.2,0a4.1,4.1 0 1,0 -8.2,0ZM1384.6,291.0a4.1,4.1 0 1,0 8.2,0a4.1,4.1 0 1,0 -8.2,0ZM1388.1,289.2a4.1,4.1 0 1,0 8.2,0a4.1,4.1 0 1,0 -8.2,0ZM1391.6,291.2a4.1,4.1 0 1,0 8.2,0a4.1,4.1 0 1,0 -8.2,0ZM1395.1,292.7a4.1,4.1 0 1,0 8.2,0a4.1,4.1 0 1,0 -8.2,0ZM1398.6,290.4a4.1,4.1 0 1,0 8.2,0a4.1,4.1 0 1,0 -8.2,0ZM1402.1,287.2a4.1,4.1 0 1,0 8.2,0a4.1,4.1 0 1,0 -8.2,0ZM1405.6,289.2a4.1,4.1 0 1,0 8.2,0a4.1,4.1 0 1,0 -8.2,0ZM1409.0,280.2a4.1,4.1 0 1,0 8.2,0a4.1,4.1 0 1,0 -8.2,0ZM1412.5,290.8a4.1,4.1 0 1,0 8.2,0a4.1,4.1 0 1,0 -8.2,0ZM1416.0,276.1a4.1,4.1 0 1,0 8.2,0a4.1,4.1 0 1,0 -8.2,0ZM1419.5,282.9a4.1,4.1 0 1,0 8.2,0a4.1,4.1 0 1,0 -8.2,0Z"/>
<polyline points="1078.0,323.2 1081.5,333.2 1085.0,327.5 1088.5,316.9 1091.9,325.6 1095.4,319.8 1098.9,324.1 1102.4,327.5 1105.9,330.8 1109.4,322.2 1112.9,327.9 1116.4,333.2 1119.9,342.3 1123.4,315.5 1126.9,321.7 1130.4,315.5 1133.8,308.3 1137.3,310.7 1140.8,300.2 1144.3,305.5 1147.8,320.8 1151.3,328.4 1154.8,316.0 1158.3,310.7 1161.8,310.3 1165.3,314.1 1168.8,300.7 1172.2,314.1 1175.7,299.3 1179.2,299.3 1182.7,304.5 1186.2,295.4 1189.7,291.6 1193.2,292.6 1196.7,300.2 1200.2,311.2 1203.7,316.9 1207.2,303.8 1210.7,295.9 1214.1,295.4 1217.6,294.5 1221.1,302.6 1224.6,304.5 1228.1,299.7 1231.6,302.1 1235.1,307.4 1238.6,302.6 1242.1,288.3 1245.6,302.6 1249.1,287.8 1252.5,293.5 1256.0,281.1 1259.5,288.3 1263.0,276.3 1266.5,289.2 1270.0,293.0 1273.5,303.1 1277.0,290.6 1280.5,294.0 1284.0,299.7 1287.5,290.2 1290.9,301.6 1294.4,294.0 1297.9,283.9 1301.4,273.4 1304.9,291.1 1308.4,288.3 1311.9,291.6 1315.4,286.8 1318.9,282.5 1322.4,284.9 1325.9,271.5 1329.4,271.0 1332.8,279.2 1336.3,279.6 1339.8,268.0 1343.3,260.3 1346.8,256.9 1350.3,267.9 1353.8,264.6 1357.3,261.2 1360.8,258.8 1364.3,267.4 1367.8,268.9 1371.2,246.9 1374.7,250.7 1378.2,259.3 1381.7,260.3 1385.2,263.6 1388.7,249.7 1392.2,247.3 1395.7,248.8 1399.2,249.7 1402.7,246.9 1406.2,243.0 1409.7,244.5 1413.1,234.9 1416.6,245.0 1420.1,229.7 1423.6,235.9" fill="none" stroke="#05b38c" stroke-width="3.1" stroke-dasharray="9.6 4.6" stroke-linejoin="round"/>
<path fill="#05b38c" stroke="#05b38c" stroke-width="2.2" stroke-linejoin="round" d="M1078.0,321.0L1078.6,322.3L1080.1,322.5L1079.0,323.5L1079.3,324.9L1078.0,324.3L1076.7,324.9L1076.9,323.5L1075.9,322.5L1077.3,322.3ZM1081.5,331.0L1082.1,332.3L1083.6,332.5L1082.5,333.5L1082.8,335.0L1081.5,334.3L1080.2,335.0L1080.4,333.5L1079.4,332.5L1080.8,332.3ZM1085.0,325.3L1085.6,326.6L1087.1,326.8L1086.0,327.8L1086.3,329.2L1085.0,328.6L1083.7,329.2L1083.9,327.8L1082.9,326.8L1084.3,326.6ZM1088.5,314.7L1089.1,316.1L1090.5,316.3L1089.5,317.3L1089.7,318.7L1088.5,318.0L1087.2,318.7L1087.4,317.3L1086.4,316.3L1087.8,316.1ZM1091.9,323.4L1092.6,324.7L1094.0,324.9L1093.0,325.9L1093.2,327.3L1091.9,326.7L1090.7,327.3L1090.9,325.9L1089.9,324.9L1091.3,324.7ZM1095.4,317.6L1096.1,318.9L1097.5,319.1L1096.5,320.2L1096.7,321.6L1095.4,320.9L1094.1,321.6L1094.4,320.2L1093.3,319.1L1094.8,318.9ZM1098.9,321.9L1099.6,323.2L1101.0,323.4L1100.0,324.5L1100.2,325.9L1098.9,325.2L1097.6,325.9L1097.9,324.5L1096.8,323.4L1098.3,323.2ZM1102.4,325.3L1103.1,326.6L1104.5,326.8L1103.5,327.8L1103.7,329.2L1102.4,328.6L1101.1,329.2L1101.4,327.8L1100.3,326.8L1101.8,326.6ZM1105.9,328.6L1106.6,329.9L1108.0,330.1L1107.0,331.2L1107.2,332.6L1105.9,331.9L1104.6,332.6L1104.9,331.2L1103.8,330.1L1105.3,329.9ZM1109.4,320.0L1110.0,321.3L1111.5,321.5L1110.4,322.5L1110.7,324.0L1109.4,323.3L1108.1,324.0L1108.4,322.5L1107.3,321.5L1108.8,321.3ZM1112.9,325.7L1113.5,327.1L1115.0,327.3L1113.9,328.3L1114.2,329.7L1112.9,329.0L1111.6,329.7L1111.8,328.3L1110.8,327.3L1112.2,327.1ZM1116.4,331.0L1117.0,332.3L1118.5,332.5L1117.4,333.5L1117.7,335.0L1116.4,334.3L1115.1,335.0L1115.3,333.5L1114.3,332.5L1115.7,332.3ZM1119.9,340.1L1120.5,341.4L1122.0,341.6L1120.9,342.6L1121.2,344.1L1119.9,343.4L1118.6,344.1L1118.8,342.6L1117.8,341.6L1119.2,341.4ZM1123.4,313.3L1124.0,314.6L1125.5,314.8L1124.4,315.9L1124.7,317.3L1123.4,316.6L1122.1,317.3L1122.3,315.9L1121.3,314.8L1122.7,314.6ZM1126.9,319.5L1127.5,320.8L1129.0,321.0L1127.9,322.1L1128.2,323.5L1126.9,322.8L1125.6,323.5L1125.8,322.1L1124.8,321.0L1126.2,320.8ZM1130.4,313.3L1131.0,314.6L1132.4,314.8L1131.4,315.9L1131.6,317.3L1130.4,316.6L1129.1,317.3L1129.3,315.9L1128.3,314.8L1129.7,314.6ZM1133.8,306.1L1134.5,307.4L1135.9,307.7L1134.9,308.7L1135.1,310.1L1133.8,309.4L1132.5,310.1L1132.8,308.7L1131.7,307.7L1133.2,307.4ZM1137.3,308.5L1138.0,309.8L1139.4,310.0L1138.4,311.1L1138.6,312.5L1137.3,311.8L1136.0,312.5L1136.3,311.1L1135.2,310.0L1136.7,309.8ZM1140.8,298.0L1141.5,299.3L1142.9,299.5L1141.9,300.6L1142.1,302.0L1140.8,301.3L1139.5,302.0L1139.8,300.6L1138.7,299.5L1140.2,299.3ZM1144.3,303.3L1145.0,304.6L1146.4,304.8L1145.4,305.8L1145.6,307.2L1144.3,306.6L1143.0,307.2L1143.3,305.8L1142.2,304.8L1143.7,304.6ZM1147.8,318.6L1148.5,319.9L1149.9,320.1L1148.9,321.1L1149.1,322.6L1147.8,321.9L1146.5,322.6L1146.8,321.1L1145.7,320.1L1147.2,319.9ZM1151.3,326.2L1151.9,327.5L1153.4,327.7L1152.3,328.8L1152.6,330.2L1151.3,329.5L1150.0,330.2L1150.3,328.8L1149.2,327.7L1150.7,327.5ZM1154.8,313.8L1155.4,315.1L1156.9,315.3L1155.8,316.3L1156.1,317.8L1154.8,317.1L1153.5,317.8L1153.7,316.3L1152.7,315.3L1154.1,315.1ZM1158.3,308.5L1158.9,309.8L1160.4,310.0L1159.3,311.1L1159.6,312.5L1158.3,311.8L1157.0,312.5L1157.2,311.1L1156.2,310.0L1157.6,309.8ZM1161.8,308.1L1162.4,309.4L1163.9,309.6L1162.8,310.6L1163.1,312.0L1161.8,311.4L1160.5,312.0L1160.7,310.6L1159.7,309.6L1161.1,309.4ZM1165.3,311.9L1165.9,313.2L1167.4,313.4L1166.3,314.4L1166.6,315.9L1165.3,315.2L1164.0,315.9L1164.2,314.4L1163.2,313.4L1164.6,313.2ZM1168.8,298.5L1169.4,299.8L1170.8,300.0L1169.8,301.0L1170.0,302.5L1168.8,301.8L1167.5,302.5L1167.7,301.0L1166.7,300.0L1168.1,299.8ZM1172.2,311.9L1172.9,313.2L1174.3,313.4L1173.3,314.4L1173.5,315.9L1172.2,315.2L1171.0,315.9L1171.2,314.4L1170.2,313.4L1171.6,313.2ZM1175.7,297.1L1176.4,298.4L1177.8,298.6L1176.8,299.6L1177.0,301.0L1175.7,300.4L1174.4,301.0L1174.7,299.6L1173.6,298.6L1175.1,298.4ZM1179.2,297.1L1179.9,298.4L1181.3,298.6L1180.3,299.6L1180.5,301.0L1179.2,300.4L1177.9,301.0L1178.2,299.6L1177.1,298.6L1178.6,298.4ZM1182.7,302.3L1183.4,303.6L1184.8,303.8L1183.8,304.9L1184.0,306.3L1182.7,305.6L1181.4,306.3L1181.7,304.9L1180.6,303.8L1182.1,303.6ZM1186.2,293.2L1186.9,294.5L1188.3,294.7L1187.3,295.8L1187.5,297.2L1186.2,296.5L1184.9,297.2L1185.2,295.8L1184.1,294.7L1185.6,294.5ZM1189.7,289.4L1190.3,290.7L1191.8,290.9L1190.7,291.9L1191.0,293.4L1189.7,292.7L1188.4,293.4L1188.7,291.9L1187.6,290.9L1189.1,290.7ZM1193.2,290.4L1193.8,291.7L1195.3,291.9L1194.2,292.9L1194.5,294.3L1193.2,293.7L1191.9,294.3L1192.1,292.9L1191.1,291.9L1192.5,291.7ZM1196.7,298.0L1197.3,299.3L1198.8,299.5L1197.7,300.6L1198.0,302.0L1196.7,301.3L1195.4,302.0L1195.6,300.6L1194.6,299.5L1196.0,299.3ZM1200.2,309.0L1200.8,310.3L1202.3,310.5L1201.2,311.5L1201.5,313.0L1200.2,312.3L1198.9,313.0L1199.1,311.5L1198.1,310.5L1199.5,310.3ZM1203.7,314.7L1204.3,316.1L1205.8,316.3L1204.7,317.3L1205.0,318.7L1203.7,318.0L1202.4,318.7L1202.6,317.3L1201.6,316.3L1203.0,316.1ZM1207.2,301.6L1207.8,302.9L1209.3,303.1L1208.2,304.1L1208.5,305.6L1207.2,304.9L1205.9,305.6L1206.1,304.1L1205.1,303.1L1206.5,302.9ZM1210.7,293.7L1211.3,295.0L1212.7,295.2L1211.7,296.2L1211.9,297.7L1210.7,297.0L1209.4,297.7L1209.6,296.2L1208.6,295.2L1210.0,295.0ZM1214.1,293.2L1214.8,294.5L1216.2,294.7L1215.2,295.8L1215.4,297.2L1214.1,296.5L1212.8,297.2L1213.1,295.8L1212.0,294.7L1213.5,294.5ZM1217.6,292.3L1218.3,293.6L1219.7,293.8L1218.7,294.8L1218.9,296.2L1217.6,295.6L1216.3,296.2L1216.6,294.8L1215.5,293.8L1217.0,293.6ZM1221.1,300.4L1221.8,301.7L1223.2,301.9L1222.2,302.9L1222.4,304.4L1221.1,303.7L1219.8,304.4L1220.1,302.9L1219.0,301.9L1220.5,301.7ZM1224.6,302.3L1225.3,303.6L1226.7,303.8L1225.7,304.8L1225.9,306.3L1224.6,305.6L1223.3,306.3L1223.6,304.8L1222.5,303.8L1224.0,303.6ZM1228.1,297.5L1228.8,298.8L1230.2,299.0L1229.2,300.1L1229.4,301.5L1228.1,300.8L1226.8,301.5L1227.1,300.1L1226.0,299.0L1227.5,298.8ZM1231.6,299.9L1232.2,301.2L1233.7,301.4L1232.6,302.5L1232.9,303.9L1231.6,303.2L1230.3,303.9L1230.6,302.5L1229.5,301.4L1231.0,301.2ZM1235.1,305.2L1235.7,306.5L1237.2,306.7L1236.1,307.7L1236.4,309.2L1235.1,308.5L1233.8,309.2L1234.0,307.7L1233.0,306.7L1234.4,306.5ZM1238.6,300.4L1239.2,301.7L1240.7,301.9L1239.6,302.9L1239.9,304.4L1238.6,303.7L1237.3,304.4L1237.5,302.9L1236.5,301.9L1237.9,301.7ZM1242.1,286.1L1242.7,287.4L1244.2,287.6L1243.1,288.6L1243.4,290.0L1242.1,289.4L1240.8,290.0L1241.0,288.6L1240.0,287.6L1241.4,287.4ZM1245.6,300.4L1246.2,301.7L1247.7,301.9L1246.6,302.9L1246.9,304.4L1245.6,303.7L1244.3,304.4L1244.5,302.9L1243.5,301.9L1244.9,301.7ZM1249.1,285.6L1249.7,286.9L1251.1,287.1L1250.1,288.1L1250.3,289.6L1249.1,288.9L1247.8,289.6L1248.0,288.1L1247.0,287.1L1248.4,286.9ZM1252.5,291.3L1253.2,292.6L1254.6,292.8L1253.6,293.9L1253.8,295.3L1252.5,294.6L1251.3,295.3L1251.5,293.9L1250.5,292.8L1251.9,292.6ZM1256.0,278.9L1256.7,280.2L1258.1,280.4L1257.1,281.4L1257.3,282.9L1256.0,282.2L1254.7,282.9L1255.0,281.4L1253.9,280.4L1255.4,280.2ZM1259.5,286.1L1260.2,287.4L1261.6,287.6L1260.6,288.6L1260.8,290.0L1259.5,289.4L1258.2,290.0L1258.5,288.6L1257.4,287.6L1258.9,287.4ZM1263.0,274.1L1263.7,275.4L1265.1,275.6L1264.1,276.6L1264.3,278.1L1263.0,277.4L1261.7,278.1L1262.0,276.6L1260.9,275.6L1262.4,275.4ZM1266.5,287.0L1267.2,288.3L1268.6,288.5L1267.6,289.5L1267.8,291.0L1266.5,290.3L1265.2,291.0L1265.5,289.5L1264.4,288.5L1265.9,288.3ZM1270.0,290.8L1270.6,292.1L1272.1,292.4L1271.0,293.4L1271.3,294.8L1270.0,294.1L1268.7,294.8L1269.0,293.4L1267.9,292.4L1269.4,292.1ZM1273.5,300.9L1274.1,302.2L1275.6,302.4L1274.5,303.4L1274.8,304.9L1273.5,304.2L1272.2,304.9L1272.4,303.4L1271.4,302.4L1272.8,302.2ZM1277.0,288.4L1277.6,289.8L1279.1,290.0L1278.0,291.0L1278.3,292.4L1277.0,291.7L1275.7,292.4L1275.9,291.0L1274.9,290.0L1276.3,289.8ZM1280.5,291.8L1281.1,293.1L1282.6,293.3L1281.5,294.3L1281.8,295.8L1280.5,295.1L1279.2,295.8L1279.4,294.3L1278.4,293.3L1279.8,293.1ZM1284.0,297.5L1284.6,298.8L1286.1,299.0L1285.0,300.1L1285.3,301.5L1284.0,300.8L1282.7,301.5L1282.9,300.1L1281.9,299.0L1283.3,298.8ZM1287.5,288.0L1288.1,289.3L1289.6,289.5L1288.5,290.5L1288.8,291.9L1287.5,291.3L1286.2,291.9L1286.4,290.5L1285.4,289.5L1286.8,289.3ZM1290.9,299.4L1291.6,300.7L1293.0,301.0L1292.0,302.0L1292.2,303.4L1290.9,302.7L1289.7,303.4L1289.9,302.0L1288.9,301.0L1290.3,300.7ZM1294.4,291.8L1295.1,293.1L1296.5,293.3L1295.5,294.3L1295.7,295.8L1294.4,295.1L1293.1,295.8L1293.4,294.3L1292.3,293.3L1293.8,293.1ZM1297.9,281.7L1298.6,283.1L1300.0,283.3L1299.0,284.3L1299.2,285.7L1297.9,285.0L1296.6,285.7L1296.9,284.3L1295.8,283.3L1297.3,283.1ZM1301.4,271.2L1302.1,272.5L1303.5,272.7L1302.5,273.8L1302.7,275.2L1301.4,274.5L1300.1,275.2L1300.4,273.8L1299.3,272.7L1300.8,272.5ZM1304.9,288.9L1305.6,290.2L1307.0,290.4L1306.0,291.5L1306.2,292.9L1304.9,292.2L1303.6,292.9L1303.9,291.5L1302.8,290.4L1304.3,290.2ZM1308.4,286.1L1309.1,287.4L1310.5,287.6L1309.5,288.6L1309.7,290.0L1308.4,289.4L1307.1,290.0L1307.4,288.6L1306.3,287.6L1307.8,287.4ZM1311.9,289.4L1312.5,290.7L1314.0,290.9L1312.9,291.9L1313.2,293.4L1311.9,292.7L1310.6,293.4L1310.9,291.9L1309.8,290.9L1311.3,290.7ZM1315.4,284.6L1316.0,285.9L1317.5,286.1L1316.4,287.2L1316.7,288.6L1315.4,287.9L1314.1,288.6L1314.3,287.2L1313.3,286.1L1314.7,285.9ZM1318.9,280.3L1319.5,281.6L1321.0,281.8L1319.9,282.9L1320.2,284.3L1318.9,283.6L1317.6,284.3L1317.8,282.9L1316.8,281.8L1318.2,281.6ZM1322.4,282.7L1323.0,284.0L1324.5,284.2L1323.4,285.2L1323.7,286.7L1322.4,286.0L1321.1,286.7L1321.3,285.2L1320.3,284.2L1321.7,284.0ZM1325.9,269.3L1326.5,270.6L1328.0,270.8L1326.9,271.9L1327.2,273.3L1325.9,272.6L1324.6,273.3L1324.8,271.9L1323.8,270.8L1325.2,270.6ZM1329.4,268.8L1330.0,270.1L1331.4,270.4L1330.4,271.4L1330.6,272.8L1329.4,272.1L1328.1,272.8L1328.3,271.4L1327.3,270.4L1328.7,270.1ZM1332.8,277.0L1333.5,278.3L1334.9,278.5L1333.9,279.5L1334.1,280.9L1332.8,280.3L1331.6,280.9L1331.8,279.5L1330.8,278.5L1332.2,278.3ZM1336.3,277.4L1337.0,278.8L1338.4,279.0L1337.4,280.0L1337.6,281.4L1336.3,280.7L1335.0,281.4L1335.3,280.0L1334.2,279.0L1335.7,278.8ZM1339.8,265.8L1340.5,267.1L1341.9,267.4L1340.9,268.4L1341.1,269.8L1339.8,269.1L1338.5,269.8L1338.8,268.4L1337.7,267.4L1339.2,267.1ZM1343.3,258.1L1344.0,259.4L1345.4,259.6L1344.4,260.6L1344.6,262.0L1343.3,261.4L1342.0,262.0L1342.3,260.6L1341.2,259.6L1342.7,259.4ZM1346.8,254.7L1347.5,256.0L1348.9,256.2L1347.9,257.2L1348.1,258.7L1346.8,258.0L1345.5,258.7L1345.8,257.2L1344.7,256.2L1346.2,256.0ZM1350.3,265.7L1350.9,267.0L1352.4,267.2L1351.3,268.2L1351.6,269.7L1350.3,269.0L1349.0,269.7L1349.3,268.2L1348.2,267.2L1349.7,267.0ZM1353.8,262.4L1354.4,263.7L1355.9,263.9L1354.8,264.9L1355.1,266.3L1353.8,265.7L1352.5,266.3L1352.7,264.9L1351.7,263.9L1353.1,263.7ZM1357.3,259.0L1357.9,260.3L1359.4,260.5L1358.3,261.5L1358.6,263.0L1357.3,262.3L1356.0,263.0L1356.2,261.5L1355.2,260.5L1356.6,260.3ZM1360.8,256.6L1361.4,257.9L1362.9,258.1L1361.8,259.2L1362.1,260.6L1360.8,259.9L1359.5,260.6L1359.7,259.2L1358.7,258.1L1360.1,257.9ZM1364.3,265.2L1364.9,266.5L1366.4,266.7L1365.3,267.8L1365.6,269.2L1364.3,268.5L1363.0,269.2L1363.2,267.8L1362.2,266.7L1363.6,266.5ZM1367.8,266.7L1368.4,268.0L1369.9,268.2L1368.8,269.2L1369.1,270.6L1367.8,270.0L1366.5,270.6L1366.7,269.2L1365.7,268.2L1367.1,268.0ZM1371.2,244.7L1371.9,246.0L1373.3,246.2L1372.3,247.2L1372.5,248.6L1371.2,248.0L1370.0,248.6L1370.2,247.2L1369.2,246.2L1370.6,246.0ZM1374.7,248.5L1375.4,249.8L1376.8,250.0L1375.8,251.0L1376.0,252.5L1374.7,251.8L1373.4,252.5L1373.7,251.0L1372.6,250.0L1374.1,249.8ZM1378.2,257.1L1378.9,258.4L1380.3,258.6L1379.3,259.6L1379.5,261.1L1378.2,260.4L1376.9,261.1L1377.2,259.6L1376.1,258.6L1377.6,258.4ZM1381.7,258.1L1382.4,259.4L1383.8,259.6L1382.8,260.6L1383.0,262.0L1381.7,261.4L1380.4,262.0L1380.7,260.6L1379.6,259.6L1381.1,259.4ZM1385.2,261.4L1385.9,262.7L1387.3,262.9L1386.3,263.9L1386.5,265.4L1385.2,264.7L1383.9,265.4L1384.2,263.9L1383.1,262.9L1384.6,262.7ZM1388.7,247.5L1389.4,248.8L1390.8,249.1L1389.8,250.1L1390.0,251.5L1388.7,250.8L1387.4,251.5L1387.7,250.1L1386.6,249.1L1388.1,248.8ZM1392.2,245.1L1392.8,246.5L1394.3,246.7L1393.2,247.7L1393.5,249.1L1392.2,248.4L1390.9,249.1L1391.2,247.7L1390.1,246.7L1391.6,246.5ZM1395.7,246.6L1396.3,247.9L1397.8,248.1L1396.7,249.1L1397.0,250.6L1395.7,249.9L1394.4,250.6L1394.6,249.1L1393.6,248.1L1395.0,247.9ZM1399.2,247.5L1399.8,248.8L1401.3,249.1L1400.2,250.1L1400.5,251.5L1399.2,250.8L1397.9,251.5L1398.1,250.1L1397.1,249.1L1398.5,248.8ZM1402.7,244.7L1403.3,246.0L1404.8,246.2L1403.7,247.2L1404.0,248.6L1402.7,248.0L1401.4,248.6L1401.6,247.2L1400.6,246.2L1402.0,246.0ZM1406.2,240.8L1406.8,242.1L1408.3,242.4L1407.2,243.4L1407.5,244.8L1406.2,244.1L1404.9,244.8L1405.1,243.4L1404.1,242.4L1405.5,242.1ZM1409.7,242.3L1410.3,243.6L1411.7,243.8L1410.7,244.8L1410.9,246.3L1409.7,245.6L1408.4,246.3L1408.6,244.8L1407.6,243.8L1409.0,243.6ZM1413.1,232.7L1413.8,234.0L1415.2,234.2L1414.2,235.2L1414.4,236.7L1413.1,236.0L1411.9,236.7L1412.1,235.2L1411.1,234.2L1412.5,234.0ZM1416.6,242.8L1417.3,244.1L1418.7,244.3L1417.7,245.3L1417.9,246.7L1416.6,246.1L1415.3,246.7L1415.6,245.3L1414.5,244.3L1416.0,244.1ZM1420.1,227.5L1420.8,228.8L1422.2,229.0L1421.2,230.0L1421.4,231.4L1420.1,230.8L1418.8,231.4L1419.1,230.0L1418.0,229.0L1419.5,228.8ZM1423.6,233.7L1424.3,235.0L1425.7,235.2L1424.7,236.2L1424.9,237.6L1423.6,237.0L1422.3,237.6L1422.6,236.2L1421.5,235.2L1423.0,235.0Z"/>
<polyline points="1078.0,342.0 1081.5,341.7 1085.0,341.4 1088.5,341.2 1091.9,340.9 1095.4,340.6 1098.9,340.3 1102.4,340.1 1105.9,339.8 1109.4,339.5 1112.9,339.2 1116.4,338.9 1119.9,338.6 1123.4,338.3 1126.9,338.0 1130.4,337.7 1133.8,337.4 1137.3,337.1 1140.8,336.8 1144.3,336.5 1147.8,336.2 1151.3,335.9 1154.8,335.6 1158.3,335.2 1161.8,334.9 1165.3,334.6 1168.8,334.3 1172.2,333.9 1175.7,333.6 1179.2,333.3 1182.7,332.9 1186.2,332.6 1189.7,332.2 1193.2,331.9 1196.7,331.5 1200.2,331.2 1203.7,330.8 1207.2,330.5 1210.7,330.1 1214.1,329.7 1217.6,329.4 1221.1,329.0 1224.6,328.6 1228.1,328.2 1231.6,327.9 1235.1,327.5 1238.6,327.1 1242.1,326.7 1245.6,326.3 1249.1,325.9 1252.5,325.5 1256.0,325.1 1259.5,324.7 1263.0,324.3 1266.5,323.9 1270.0,323.5 1273.5,323.1 1277.0,322.7 1280.5,322.3 1284.0,321.9 1287.5,321.4 1290.9,321.0 1294.4,320.6 1297.9,320.2 1301.4,319.7 1304.9,319.3 1308.4,318.8 1311.9,318.4 1315.4,318.0 1318.9,317.5 1322.4,317.1 1325.9,316.6 1329.4,316.2 1332.8,315.7 1336.3,315.2 1339.8,314.8 1343.3,314.3 1346.8,313.8 1350.3,313.4 1353.8,312.9 1357.3,312.4 1360.8,311.9 1364.3,311.5 1367.8,311.0 1371.2,310.5 1374.7,310.0 1378.2,309.5 1381.7,309.0 1385.2,308.5 1388.7,308.0 1392.2,307.5 1395.7,307.0 1399.2,306.5 1402.7,306.0 1406.2,305.5 1409.7,304.9 1413.1,304.4 1416.6,303.9 1420.1,303.4 1423.6,302.8" fill="none" stroke="#00d2fa" stroke-width="2.2"/>
<path fill="#00d2fa" d="M1078.0,337.0L1083.0,347.0L1073.0,347.0ZM1081.5,336.7L1086.5,346.7L1076.5,346.7ZM1085.0,336.4L1090.0,346.4L1080.0,346.4ZM1088.5,336.2L1093.5,346.2L1083.5,346.2ZM1091.9,335.9L1096.9,345.9L1086.9,345.9ZM1095.4,335.6L1100.4,345.6L1090.4,345.6ZM1098.9,335.3L1103.9,345.3L1093.9,345.3ZM1102.4,335.1L1107.4,345.1L1097.4,345.1ZM1105.9,334.8L1110.9,344.8L1100.9,344.8ZM1109.4,334.5L1114.4,344.5L1104.4,344.5ZM1112.9,334.2L1117.9,344.2L1107.9,344.2ZM1116.4,333.9L1121.4,343.9L1111.4,343.9ZM1119.9,333.6L1124.9,343.6L1114.9,343.6ZM1123.4,333.3L1128.4,343.3L1118.4,343.3ZM1126.9,333.0L1131.9,343.0L1121.9,343.0ZM1130.4,332.7L1135.4,342.7L1125.4,342.7ZM1133.8,332.4L1138.8,342.4L1128.8,342.4ZM1137.3,332.1L1142.3,342.1L1132.3,342.1ZM1140.8,331.8L1145.8,341.8L1135.8,341.8ZM1144.3,331.5L1149.3,341.5L1139.3,341.5ZM1147.8,331.2L1152.8,341.2L1142.8,341.2ZM1151.3,330.9L1156.3,340.9L1146.3,340.9ZM1154.8,330.6L1159.8,340.6L1149.8,340.6ZM1158.3,330.2L1163.3,340.2L1153.3,340.2ZM1161.8,329.9L1166.8,339.9L1156.8,339.9ZM1165.3,329.6L1170.3,339.6L1160.3,339.6ZM1168.8,329.3L1173.8,339.3L1163.8,339.3ZM1172.2,328.9L1177.2,338.9L1167.2,338.9ZM1175.7,328.6L1180.7,338.6L1170.7,338.6ZM1179.2,328.3L1184.2,338.3L1174.2,338.3ZM1182.7,327.9L1187.7,337.9L1177.7,337.9ZM1186.2,327.6L1191.2,337.6L1181.2,337.6ZM1189.7,327.2L1194.7,337.2L1184.7,337.2ZM1193.2,326.9L1198.2,336.9L1188.2,336.9ZM1196.7,326.5L1201.7,336.5L1191.7,336.5ZM1200.2,326.2L1205.2,336.2L1195.2,336.2ZM1203.7,325.8L1208.7,335.8L1198.7,335.8ZM1207.2,325.5L1212.2,335.5L1202.2,335.5ZM1210.7,325.1L1215.7,335.1L1205.7,335.1ZM1214.1,324.7L1219.1,334.7L1209.1,334.7ZM1217.6,324.4L1222.6,334.4L1212.6,334.4ZM1221.1,324.0L1226.1,334.0L1216.1,334.0ZM1224.6,323.6L1229.6,333.6L1219.6,333.6ZM1228.1,323.2L1233.1,333.2L1223.1,333.2ZM1231.6,322.9L1236.6,332.9L1226.6,332.9ZM1235.1,322.5L1240.1,332.5L1230.1,332.5ZM1238.6,322.1L1243.6,332.1L1233.6,332.1ZM1242.1,321.7L1247.1,331.7L1237.1,331.7ZM1245.6,321.3L1250.6,331.3L1240.6,331.3ZM1249.1,320.9L1254.1,330.9L1244.1,330.9ZM1252.5,320.5L1257.5,330.5L1247.5,330.5ZM1256.0,320.1L1261.0,330.1L1251.0,330.1ZM1259.5,319.7L1264.5,329.7L1254.5,329.7ZM1263.0,319.3L1268.0,329.3L1258.0,329.3ZM1266.5,318.9L1271.5,328.9L1261.5,328.9ZM1270.0,318.5L1275.0,328.5L1265.0,328.5ZM1273.5,318.1L1278.5,328.1L1268.5,328.1ZM1277.0,317.7L1282.0,327.7L1272.0,327.7ZM1280.5,317.3L1285.5,327.3L1275.5,327.3ZM1284.0,316.9L1289.0,326.9L1279.0,326.9ZM1287.5,316.4L1292.5,326.4L1282.5,326.4ZM1290.9,316.0L1295.9,326.0L1285.9,326.0ZM1294.4,315.6L1299.4,325.6L1289.4,325.6ZM1297.9,315.2L1302.9,325.2L1292.9,325.2ZM1301.4,314.7L1306.4,324.7L1296.4,324.7ZM1304.9,314.3L1309.9,324.3L1299.9,324.3ZM1308.4,313.8L1313.4,323.8L1303.4,323.8ZM1311.9,313.4L1316.9,323.4L1306.9,323.4ZM1315.4,313.0L1320.4,323.0L1310.4,323.0ZM1318.9,312.5L1323.9,322.5L1313.9,322.5ZM1322.4,312.1L1327.4,322.1L1317.4,322.1ZM1325.9,311.6L1330.9,321.6L1320.9,321.6ZM1329.4,311.2L1334.4,321.2L1324.4,321.2ZM1332.8,310.7L1337.8,320.7L1327.8,320.7ZM1336.3,310.2L1341.3,320.2L1331.3,320.2ZM1339.8,309.8L1344.8,319.8L1334.8,319.8ZM1343.3,309.3L1348.3,319.3L1338.3,319.3ZM1346.8,308.8L1351.8,318.8L1341.8,318.8ZM1350.3,308.4L1355.3,318.4L1345.3,318.4ZM1353.8,307.9L1358.8,317.9L1348.8,317.9ZM1357.3,307.4L1362.3,317.4L1352.3,317.4ZM1360.8,306.9L1365.8,316.9L1355.8,316.9ZM1364.3,306.5L1369.3,316.5L1359.3,316.5ZM1367.8,306.0L1372.8,316.0L1362.8,316.0ZM1371.2,305.5L1376.2,315.5L1366.2,315.5ZM1374.7,305.0L1379.7,315.0L1369.7,315.0ZM1378.2,304.5L1383.2,314.5L1373.2,314.5ZM1381.7,304.0L1386.7,314.0L1376.7,314.0ZM1385.2,303.5L1390.2,313.5L1380.2,313.5ZM1388.7,303.0L1393.7,313.0L1383.7,313.0ZM1392.2,302.5L1397.2,312.5L1387.2,312.5ZM1395.7,302.0L1400.7,312.0L1390.7,312.0ZM1399.2,301.5L1404.2,311.5L1394.2,311.5ZM1402.7,301.0L1407.7,311.0L1397.7,311.0ZM1406.2,300.5L1411.2,310.5L1401.2,310.5ZM1409.7,299.9L1414.7,309.9L1404.7,309.9ZM1413.1,299.4L1418.1,309.4L1408.1,309.4ZM1416.6,298.9L1421.6,308.9L1411.6,308.9ZM1420.1,298.4L1425.1,308.4L1415.1,308.4ZM1423.6,297.8L1428.6,307.8L1418.6,307.8Z"/>
</g>
<path fill="#ffb41f" d="M237.2,612.5h6.4v6.4h-6.4ZM240.7,612.9h6.4v6.4h-6.4ZM244.2,613.4h6.4v6.4h-6.4ZM247.7,613.9h6.4v6.4h-6.4ZM251.2,614.4h6.4v6.4h-6.4ZM254.7,614.9h6.4v6.4h-6.4ZM258.2,615.4h6.4v6.4h-6.4ZM261.7,616.0h6.4v6.4h-6.4ZM265.2,616.5h6.4v6.4h-6.4ZM268.7,617.1h6.4v6.4h-6.4ZM272.1,617.7h6.4v6.4h-6.4ZM275.6,618.4h6.4v6.4h-6.4ZM279.1,619.0h6.4v6.4h-6.4ZM282.6,619.7h6.4v6.4h-6.4ZM286.1,620.4h6.4v6.4h-6.4ZM289.6,621.1h6.4v6.4h-6.4ZM293.1,621.8h6.4v6.4h-6.4ZM296.6,622.5h6.4v6.4h-6.4ZM300.1,623.3h6.4v6.4h-6.4ZM303.6,624.0h6.4v6.4h-6.4ZM307.1,624.8h6.4v6.4h-6.4ZM310.5,625.6h6.4v6.4h-6.4ZM314.0,626.4h6.4v6.4h-6.4ZM317.5,627.3h6.4v6.4h-6.4ZM321.0,628.1h6.4v6.4h-6.4ZM324.5,629.0h6.4v6.4h-6.4ZM328.0,629.9h6.4v6.4h-6.4ZM331.5,630.8h6.4v6.4h-6.4ZM335.0,631.7h6.4v6.4h-6.4ZM338.5,632.7h6.4v6.4h-6.4ZM342.0,633.6h6.4v6.4h-6.4ZM345.5,634.6h6.4v6.4h-6.4ZM349.0,635.6h6.4v6.4h-6.4ZM352.4,636.6h6.4v6.4h-6.4ZM355.9,637.6h6.4v6.4h-6.4ZM359.4,638.6h6.4v6.4h-6.4ZM362.9,639.6h6.4v6.4h-6.4ZM366.4,640.7h6.4v6.4h-6.4ZM369.9,641.8h6.4v6.4h-6.4ZM373.4,642.8h6.4v6.4h-6.4ZM376.9,643.9h6.4v6.4h-6.4ZM380.4,645.1h6.4v6.4h-6.4ZM383.9,646.2h6.4v6.4h-6.4ZM387.4,647.3h6.4v6.4h-6.4ZM390.8,648.5h6.4v6.4h-6.4ZM394.3,649.6h6.4v6.4h-6.4ZM397.8,650.8h6.4v6.4h-6.4ZM401.3,652.0h6.4v6.4h-6.4ZM404.8,653.2h6.4v6.4h-6.4ZM408.3,654.4h6.4v6.4h-6.4ZM411.8,655.7h6.4v6.4h-6.4ZM415.3,656.9h6.4v6.4h-6.4ZM418.8,658.1h6.4v6.4h-6.4ZM422.3,659.4h6.4v6.4h-6.4ZM425.8,660.7h6.4v6.4h-6.4ZM429.3,662.0h6.4v6.4h-6.4ZM432.7,663.3h6.4v6.4h-6.4ZM436.2,664.6h6.4v6.4h-6.4ZM439.7,665.9h6.4v6.4h-6.4ZM443.2,667.2h6.4v6.4h-6.4ZM446.7,668.6h6.4v6.4h-6.4ZM450.2,669.9h6.4v6.4h-6.4ZM453.7,671.3h6.4v6.4h-6.4ZM457.2,672.7h6.4v6.4h-6.4ZM460.7,674.1h6.4v6.4h-6.4ZM464.2,675.5h6.4v6.4h-6.4ZM467.7,676.9h6.4v6.4h-6.4ZM471.1,678.3h6.4v6.4h-6.4ZM474.6,679.7h6.4v6.4h-6.4ZM478.1,681.1h6.4v6.4h-6.4ZM481.6,682.6h6.4v6.4h-6.4ZM485.1,684.0h6.4v6.4h-6.4ZM488.6,685.5h6.4v6.4h-6.4ZM492.1,687.0h6.4v6.4h-6.4ZM495.6,688.4h6.4v6.4h-6.4ZM499.1,689.9h6.4v6.4h-6.4ZM502.6,691.4h6.4v6.4h-6.4ZM506.1,692.9h6.4v6.4h-6.4ZM509.6,694.4h6.4v6.4h-6.4ZM513.0,695.9h6.4v6.4h-6.4ZM516.5,697.5h6.4v6.4h-6.4ZM520.0,699.0h6.4v6.4h-6.4ZM523.5,700.5h6.4v6.4h-6.4ZM527.0,702.1h6.4v6.4h-6.4ZM530.5,703.6h6.4v6.4h-6.4ZM534.0,705.2h6.4v6.4h-6.4ZM537.5,706.8h6.4v6.4h-6.4ZM541.0,708.3h6.4v6.4h-6.4ZM544.5,709.9h6.4v6.4h-6.4ZM548.0,711.5h6.4v6.4h-6.4ZM551.4,713.1h6.4v6.4h-6.4ZM554.9,714.7h6.4v6.4h-6.4ZM558.4,716.3h6.4v6.4h-6.4ZM561.9,717.9h6.4v6.4h-6.4ZM565.4,719.5h6.4v6.4h-6.4ZM568.9,721.2h6.4v6.4h-6.4ZM572.4,722.8h6.4v6.4h-6.4ZM575.9,724.4h6.4v6.4h-6.4ZM579.4,726.0h6.4v6.4h-6.4ZM582.9,727.7h6.4v6.4h-6.4Z"/>
<path fill="#ffb41f" d="M656.1,722.9h6.4v6.4h-6.4ZM659.6,724.2h6.4v6.4h-6.4ZM663.1,725.6h6.4v6.4h-6.4ZM666.6,726.9h6.4v6.4h-6.4ZM670.0,728.3h6.4v6.4h-6.4ZM673.5,729.6h6.4v6.4h-6.4ZM677.0,730.9h6.4v6.4h-6.4ZM680.5,732.3h6.4v6.4h-6.4ZM684.0,733.6h6.4v6.4h-6.4ZM687.5,734.9h6.4v6.4h-6.4ZM691.0,736.3h6.4v6.4h-6.4ZM694.5,737.6h6.4v6.4h-6.4ZM698.0,739.0h6.4v6.4h-6.4ZM701.5,740.3h6.4v6.4h-6.4ZM705.0,741.6h6.4v6.4h-6.4ZM708.5,743.0h6.4v6.4h-6.4ZM711.9,744.3h6.4v6.4h-6.4ZM715.4,745.6h6.4v6.4h-6.4ZM718.9,747.0h6.4v6.4h-6.4ZM722.4,748.3h6.4v6.4h-6.4ZM725.9,749.6h6.4v6.4h-6.4ZM729.4,751.0h6.4v6.4h-6.4ZM732.9,752.3h6.4v6.4h-6.4ZM736.4,753.6h6.4v6.4h-6.4ZM739.9,755.0h6.4v6.4h-6.4ZM743.4,756.3h6.4v6.4h-6.4ZM746.9,757.6h6.4v6.4h-6.4ZM750.3,758.9h6.4v6.4h-6.4ZM753.8,760.3h6.4v6.4h-6.4ZM757.3,761.6h6.4v6.4h-6.4ZM760.8,762.9h6.4v6.4h-6.4ZM764.3,764.3h6.4v6.4h-6.4ZM767.8,765.6h6.4v6.4h-6.4ZM771.3,766.9h6.4v6.4h-6.4ZM774.8,768.2h6.4v6.4h-6.4ZM778.3,769.6h6.4v6.4h-6.4ZM781.8,770.9h6.4v6.4h-6.4ZM785.3,772.2h6.4v6.4h-6.4ZM788.8,773.5h6.4v6.4h-6.4ZM792.2,774.9h6.4v6.4h-6.4ZM795.7,776.2h6.4v6.4h-6.4ZM799.2,777.5h6.4v6.4h-6.4ZM802.7,778.8h6.4v6.4h-6.4ZM806.2,780.2h6.4v6.4h-6.4ZM809.7,781.5h6.4v6.4h-6.4ZM813.2,782.8h6.4v6.4h-6.4ZM816.7,784.1h6.4v6.4h-6.4ZM820.2,785.4h6.4v6.4h-6.4ZM823.7,786.8h6.4v6.4h-6.4ZM827.2,788.1h6.4v6.4h-6.4ZM830.6,789.4h6.4v6.4h-6.4ZM834.1,790.7h6.4v6.4h-6.4ZM837.6,792.0h6.4v6.4h-6.4ZM841.1,793.4h6.4v6.4h-6.4ZM844.6,794.7h6.4v6.4h-6.4ZM848.1,796.0h6.4v6.4h-6.4ZM851.6,797.3h6.4v6.4h-6.4ZM855.1,798.6h6.4v6.4h-6.4ZM858.6,800.0h6.4v6.4h-6.4ZM862.1,801.3h6.4v6.4h-6.4ZM865.6,802.6h6.4v6.4h-6.4ZM869.0,803.9h6.4v6.4h-6.4ZM872.5,805.2h6.4v6.4h-6.4ZM876.0,806.5h6.4v6.4h-6.4ZM879.5,807.8h6.4v6.4h-6.4ZM883.0,809.2h6.4v6.4h-6.4ZM886.5,810.5h6.4v6.4h-6.4ZM890.0,811.8h6.4v6.4h-6.4ZM893.5,813.1h6.4v6.4h-6.4ZM897.0,814.4h6.4v6.4h-6.4ZM900.5,815.7h6.4v6.4h-6.4ZM904.0,817.0h6.4v6.4h-6.4ZM907.5,818.3h6.4v6.4h-6.4ZM910.9,819.6h6.4v6.4h-6.4ZM914.4,821.0h6.4v6.4h-6.4ZM917.9,822.3h6.4v6.4h-6.4ZM921.4,823.6h6.4v6.4h-6.4ZM924.9,824.9h6.4v6.4h-6.4ZM928.4,826.2h6.4v6.4h-6.4ZM931.9,827.5h6.4v6.4h-6.4ZM935.4,828.8h6.4v6.4h-6.4ZM938.9,830.1h6.4v6.4h-6.4ZM942.4,831.4h6.4v6.4h-6.4ZM945.9,832.7h6.4v6.4h-6.4ZM949.3,834.0h6.4v6.4h-6.4ZM952.8,835.3h6.4v6.4h-6.4ZM956.3,836.6h6.4v6.4h-6.4ZM959.8,837.9h6.4v6.4h-6.4ZM963.3,839.2h6.4v6.4h-6.4ZM966.8,840.5h6.4v6.4h-6.4ZM970.3,841.9h6.4v6.4h-6.4ZM973.8,843.2h6.4v6.4h-6.4ZM977.3,844.5h6.4v6.4h-6.4ZM980.8,845.8h6.4v6.4h-6.4ZM984.3,847.1h6.4v6.4h-6.4ZM987.8,848.4h6.4v6.4h-6.4ZM991.2,849.7h6.4v6.4h-6.4ZM994.7,851.0h6.4v6.4h-6.4ZM998.2,852.3h6.4v6.4h-6.4ZM1001.7,853.6h6.4v6.4h-6.4Z"/>
<path fill="#ffb41f" d="M1074.8,604.3h6.4v6.4h-6.4ZM1078.3,604.5h6.4v6.4h-6.4ZM1081.8,604.8h6.4v6.4h-6.4ZM1085.3,605.0h6.4v6.4h-6.4ZM1088.7,605.3h6.4v6.4h-6.4ZM1092.2,605.6h6.4v6.4h-6.4ZM1095.7,605.9h6.4v6.4h-6.4ZM1099.2,606.3h6.4v6.4h-6.4ZM1102.7,606.6h6.4v6.4h-6.4ZM1106.2,607.0h6.4v6.4h-6.4ZM1109.7,607.4h6.4v6.4h-6.4ZM1113.2,607.8h6.4v6.4h-6.4ZM1116.7,608.3h6.4v6.4h-6.4ZM1120.2,608.7h6.4v6.4h-6.4ZM1123.7,609.2h6.4v6.4h-6.4ZM1127.2,609.7h6.4v6.4h-6.4ZM1130.6,610.2h6.4v6.4h-6.4ZM1134.1,610.8h6.4v6.4h-6.4ZM1137.6,611.3h6.4v6.4h-6.4ZM1141.1,611.9h6.4v6.4h-6.4ZM1144.6,612.5h6.4v6.4h-6.4ZM1148.1,613.1h6.4v6.4h-6.4ZM1151.6,613.8h6.4v6.4h-6.4ZM1155.1,614.4h6.4v6.4h-6.4ZM1158.6,615.1h6.4v6.4h-6.4ZM1162.1,615.8h6.4v6.4h-6.4ZM1165.6,616.5h6.4v6.4h-6.4ZM1169.0,617.2h6.4v6.4h-6.4ZM1172.5,617.9h6.4v6.4h-6.4ZM1176.0,618.7h6.4v6.4h-6.4ZM1179.5,619.5h6.4v6.4h-6.4ZM1183.0,620.3h6.4v6.4h-6.4ZM1186.5,621.1h6.4v6.4h-6.4ZM1190.0,621.9h6.4v6.4h-6.4ZM1193.5,622.7h6.4v6.4h-6.4ZM1197.0,623.6h6.4v6.4h-6.4ZM1200.5,624.4h6.4v6.4h-6.4ZM1204.0,625.3h6.4v6.4h-6.4ZM1207.5,626.2h6.4v6.4h-6.4ZM1210.9,627.1h6.4v6.4h-6.4ZM1214.4,628.1h6.4v6.4h-6.4ZM1217.9,629.0h6.4v6.4h-6.4ZM1221.4,630.0h6.4v6.4h-6.4ZM1224.9,630.9h6.4v6.4h-6.4ZM1228.4,631.9h6.4v6.4h-6.4ZM1231.9,632.9h6.4v6.4h-6.4ZM1235.4,633.9h6.4v6.4h-6.4ZM1238.9,635.0h6.4v6.4h-6.4ZM1242.4,636.0h6.4v6.4h-6.4ZM1245.9,637.1h6.4v6.4h-6.4ZM1249.3,638.1h6.4v6.4h-6.4ZM1252.8,639.2h6.4v6.4h-6.4ZM1256.3,640.3h6.4v6.4h-6.4ZM1259.8,641.4h6.4v6.4h-6.4ZM1263.3,642.5h6.4v6.4h-6.4ZM1266.8,643.6h6.4v6.4h-6.4ZM1270.3,644.8h6.4v6.4h-6.4ZM1273.8,645.9h6.4v6.4h-6.4ZM1277.3,647.1h6.4v6.4h-6.4ZM1280.8,648.3h6.4v6.4h-6.4ZM1284.3,649.4h6.4v6.4h-6.4ZM1287.7,650.6h6.4v6.4h-6.4ZM1291.2,651.8h6.4v6.4h-6.4ZM1294.7,653.1h6.4v6.4h-6.4ZM1298.2,654.3h6.4v6.4h-6.4ZM1301.7,655.5h6.4v6.4h-6.4ZM1305.2,656.8h6.4v6.4h-6.4ZM1308.7,658.0h6.4v6.4h-6.4ZM1312.2,659.3h6.4v6.4h-6.4ZM1315.7,660.6h6.4v6.4h-6.4ZM1319.2,661.8h6.4v6.4h-6.4ZM1322.7,663.1h6.4v6.4h-6.4ZM1326.2,664.4h6.4v6.4h-6.4ZM1329.6,665.7h6.4v6.4h-6.4ZM1333.1,667.0h6.4v6.4h-6.4ZM1336.6,668.4h6.4v6.4h-6.4ZM1340.1,669.7h6.4v6.4h-6.4ZM1343.6,671.0h6.4v6.4h-6.4ZM1347.1,672.4h6.4v6.4h-6.4ZM1350.6,673.7h6.4v6.4h-6.4ZM1354.1,675.1h6.4v6.4h-6.4ZM1357.6,676.5h6.4v6.4h-6.4ZM1361.1,677.8h6.4v6.4h-6.4ZM1364.6,679.2h6.4v6.4h-6.4ZM1368.0,680.6h6.4v6.4h-6.4ZM1371.5,682.0h6.4v6.4h-6.4ZM1375.0,683.4h6.4v6.4h-6.4ZM1378.5,684.8h6.4v6.4h-6.4ZM1382.0,686.2h6.4v6.4h-6.4ZM1385.5,687.6h6.4v6.4h-6.4ZM1389.0,689.0h6.4v6.4h-6.4ZM1392.5,690.5h6.4v6.4h-6.4ZM1396.0,691.9h6.4v6.4h-6.4ZM1399.5,693.3h6.4v6.4h-6.4ZM1403.0,694.8h6.4v6.4h-6.4ZM1406.5,696.2h6.4v6.4h-6.4ZM1409.9,697.6h6.4v6.4h-6.4ZM1413.4,699.1h6.4v6.4h-6.4ZM1416.9,700.5h6.4v6.4h-6.4ZM1420.4,702.0h6.4v6.4h-6.4Z"/>
<rect x="223.2" y="25.1" width="380.2" height="414.4" fill="none" stroke="#2b2b2b" stroke-width="2.2"/>
<path d="M240.4,439.5v-9.2M415.0,439.5v-9.2M589.6,439.5v-9.2M223.2,439.5h9.2M223.2,387.7h9.2M223.2,335.9h9.2M223.2,284.1h9.2M223.2,232.3h9.2M223.2,180.5h9.2M223.2,128.7h9.2M223.2,76.9h9.2M223.2,25.1h9.2" stroke="#2b2b2b" stroke-width="1.9" fill="none"/>
<text x="240.4" y="469.7" text-anchor="middle" class="tk">700</text>
<text x="415.0" y="469.7" text-anchor="middle" class="tk">750</text>
<text x="589.6" y="469.7" text-anchor="middle" class="tk">800</text>
<text x="213.7" y="450.2" text-anchor="end" class="tk">−0.04</text>
<text x="213.7" y="398.4" text-anchor="end" class="tk">−0.02</text>
<text x="213.7" y="346.6" text-anchor="end" class="tk">0.00</text>
<text x="213.7" y="294.8" text-anchor="end" class="tk">0.02</text>
<text x="213.7" y="243.0" text-anchor="end" class="tk">0.04</text>
<text x="213.7" y="191.2" text-anchor="end" class="tk">0.06</text>
<text x="213.7" y="139.4" text-anchor="end" class="tk">0.08</text>
<text x="213.7" y="87.6" text-anchor="end" class="tk">0.10</text>
<text x="213.7" y="35.8" text-anchor="end" class="tk">0.12</text>
<rect x="223.2" y="522.0" width="380.2" height="414.9" fill="none" stroke="#2b2b2b" stroke-width="2.2"/>
<path d="M240.4,936.9v-9.2M415.0,936.9v-9.2M589.6,936.9v-9.2M223.2,936.9h9.2M223.2,853.9h9.2M223.2,770.9h9.2M223.2,688.0h9.2M223.2,605.0h9.2M223.2,522.0h9.2" stroke="#2b2b2b" stroke-width="1.9" fill="none"/>
<text x="240.4" y="967.1" text-anchor="middle" class="tk">700</text>
<text x="415.0" y="967.1" text-anchor="middle" class="tk">750</text>
<text x="589.6" y="967.1" text-anchor="middle" class="tk">800</text>
<text x="213.7" y="947.6" text-anchor="end" class="tk">20</text>
<text x="213.7" y="864.6" text-anchor="end" class="tk">30</text>
<text x="213.7" y="781.6" text-anchor="end" class="tk">40</text>
<text x="213.7" y="698.7" text-anchor="end" class="tk">50</text>
<text x="213.7" y="615.7" text-anchor="end" class="tk">60</text>
<text x="213.7" y="532.7" text-anchor="end" class="tk">70</text>
<text x="413.2" y="1005.3" text-anchor="middle" class="tk">Epoch</text>
<rect x="642.0" y="25.1" width="380.2" height="414.4" fill="none" stroke="#2b2b2b" stroke-width="2.2"/>
<path d="M659.3,439.5v-9.2M833.8,439.5v-9.2M1008.4,439.5v-9.2" stroke="#2b2b2b" stroke-width="1.9" fill="none"/>
<text x="659.3" y="469.7" text-anchor="middle" class="tk">700</text>
<text x="833.8" y="469.7" text-anchor="middle" class="tk">750</text>
<text x="1008.4" y="469.7" text-anchor="middle" class="tk">800</text>
<rect x="642.0" y="522.0" width="380.2" height="414.9" fill="none" stroke="#2b2b2b" stroke-width="2.2"/>
<path d="M659.3,936.9v-9.2M833.8,936.9v-9.2M1008.4,936.9v-9.2" stroke="#2b2b2b" stroke-width="1.9" fill="none"/>
<text x="659.3" y="967.1" text-anchor="middle" class="tk">700</text>
<text x="833.8" y="967.1" text-anchor="middle" class="tk">750</text>
<text x="1008.4" y="967.1" text-anchor="middle" class="tk">800</text>
<text x="832.1" y="1005.3" text-anchor="middle" class="tk">Epoch</text>
<rect x="1060.7" y="25.1" width="380.2" height="414.4" fill="none" stroke="#2b2b2b" stroke-width="2.2"/>
<path d="M1078.0,439.5v-9.2M1252.5,439.5v-9.2M1427.1,439.5v-9.2" stroke="#2b2b2b" stroke-width="1.9" fill="none"/>
<text x="1078.0" y="469.7" text-anchor="middle" class="tk">700</text>
<text x="1252.5" y="469.7" text-anchor="middle" class="tk">750</text>
<text x="1427.1" y="469.7" text-anchor="middle" class="tk">800</text>
<rect x="1060.7" y="522.0" width="380.2" height="414.9" fill="none" stroke="#2b2b2b" stroke-width="2.2"/>
<path d="M1078.0,936.9v-9.2M1252.5,936.9v-9.2M1427.1,936.9v-9.2" stroke="#2b2b2b" stroke-width="1.9" fill="none"/>
<text x="1078.0" y="967.1" text-anchor="middle" class="tk">700</text>
<text x="1252.5" y="967.1" text-anchor="middle" class="tk">750</text>
<text x="1427.1" y="967.1" text-anchor="middle" class="tk">800</text>
<text x="1250.8" y="1005.3" text-anchor="middle" class="tk">Epoch</text>
<text transform="translate(112.8,232.8) rotate(-90)" text-anchor="middle" class="tk">DD Tropospheric delay (m)</text>
<text transform="translate(161.0,729.5) rotate(-90)" text-anchor="middle" class="tk">Elevation angle (deg)</text>
<rect x="234.2" y="35.8" width="216.8" height="98.8" rx="4.5" fill="#fff" fill-opacity="0.8" stroke="#d5d5d5" stroke-width="2.1"/>
<path d="M242.9,52.9h43.7" stroke="#b84fe0" stroke-width="2.3" stroke-dasharray="10 4.45" fill="none"/>
<circle cx="264.5" cy="52.9" r="6.7" fill="#b84fe0"/>
<text x="304.4" y="60.3" class="lg">G01 MLIM</text>
<path d="M242.9,83.5h43.7" stroke="#05b38c" stroke-width="2.3" stroke-dasharray="10 4.45" fill="none"/>
<path d="M264.5,77.2L266.4,81.1L270.8,81.8L267.6,84.8L268.4,89.1L264.5,87.1L260.6,89.1L261.4,84.8L258.2,81.8L262.6,81.1Z" fill="#05b38c"/>
<text x="304.4" y="90.9" class="lg">G01 TLIM</text>
<path d="M242.9,114.2h43.7" stroke="#00d2fa" stroke-width="2.3" stroke-dasharray="10 4.45" fill="none"/>
<path d="M264.5,106.7L272.0,121.7L257.0,121.7Z" fill="#00d2fa"/>
<text x="304.4" y="121.6" class="lg">G01 True Value</text>
<rect x="653.0" y="35.8" width="216.8" height="98.8" rx="4.5" fill="#fff" fill-opacity="0.8" stroke="#d5d5d5" stroke-width="2.1"/>
<path d="M661.7,52.9h43.7" stroke="#b84fe0" stroke-width="2.3" stroke-dasharray="10 4.45" fill="none"/>
<circle cx="683.3" cy="52.9" r="6.7" fill="#b84fe0"/>
<text x="723.2" y="60.3" class="lg">G14 MLIM</text>
<path d="M661.7,83.5h43.7" stroke="#05b38c" stroke-width="2.3" stroke-dasharray="10 4.45" fill="none"/>
<path d="M683.3,77.2L685.2,81.1L689.6,81.8L686.4,84.8L687.2,89.1L683.3,87.1L679.4,89.1L680.2,84.8L677.0,81.8L681.4,81.1Z" fill="#05b38c"/>
<text x="723.2" y="90.9" class="lg">G14 TLIM</text>
<path d="M661.7,114.2h43.7" stroke="#00d2fa" stroke-width="2.3" stroke-dasharray="10 4.45" fill="none"/>
<path d="M683.3,106.7L690.8,121.7L675.8,121.7Z" fill="#00d2fa"/>
<text x="723.2" y="121.6" class="lg">G14 True Value</text>
<rect x="1213.5" y="35.8" width="216.8" height="98.8" rx="4.5" fill="#fff" fill-opacity="0.8" stroke="#d5d5d5" stroke-width="2.1"/>
<path d="M1222.2,52.9h43.7" stroke="#b84fe0" stroke-width="2.3" stroke-dasharray="10 4.45" fill="none"/>
<circle cx="1243.8" cy="52.9" r="6.7" fill="#b84fe0"/>
<text x="1283.7" y="60.3" class="lg">G31 MLIM</text>
<path d="M1222.2,83.5h43.7" stroke="#05b38c" stroke-width="2.3" stroke-dasharray="10 4.45" fill="none"/>
<path d="M1243.8,77.2L1245.7,81.1L1250.1,81.8L1246.9,84.8L1247.7,89.1L1243.8,87.1L1239.9,89.1L1240.7,84.8L1237.5,81.8L1241.9,81.1Z" fill="#05b38c"/>
<text x="1283.7" y="90.9" class="lg">G31 TLIM</text>
<path d="M1222.2,114.2h43.7" stroke="#00d2fa" stroke-width="2.3" stroke-dasharray="10 4.45" fill="none"/>
<path d="M1243.8,106.7L1251.3,121.7L1236.3,121.7Z" fill="#00d2fa"/>
<text x="1283.7" y="121.6" class="lg">G31 True Value</text>
<rect x="234.5" y="533.6" width="151.0" height="36.9" rx="4.5" fill="#fff" fill-opacity="0.8" stroke="#d5d5d5" stroke-width="2.1"/>
<rect x="260.1" y="546.3" width="10.6" height="10.8" rx="0.8" fill="#ffb41f"/>
<text x="304.3" y="558.4" class="lg">G01 Ele</text>
<rect x="860.2" y="533.6" width="151.0" height="36.9" rx="4.5" fill="#fff" fill-opacity="0.8" stroke="#d5d5d5" stroke-width="2.1"/>
<rect x="885.8" y="546.3" width="10.6" height="10.8" rx="0.8" fill="#ffb41f"/>
<text x="930.0" y="558.4" class="lg">G14 Ele</text>
<rect x="1280.0" y="533.6" width="151.0" height="36.9" rx="4.5" fill="#fff" fill-opacity="0.8" stroke="#d5d5d5" stroke-width="2.1"/>
<rect x="1305.6" y="546.3" width="10.6" height="10.8" rx="0.8" fill="#ffb41f"/>
<text x="1349.8" y="558.4" class="lg">G31 Ele</text>
<text x="16.3" y="268.2" class="pl" font-size="37">(<tspan font-weight="bold">a</tspan>)</text>
<text x="15.2" y="779.8" class="pl" font-size="37.6">(<tspan font-weight="bold">b</tspan>)</text>
</svg>
</body></html>
